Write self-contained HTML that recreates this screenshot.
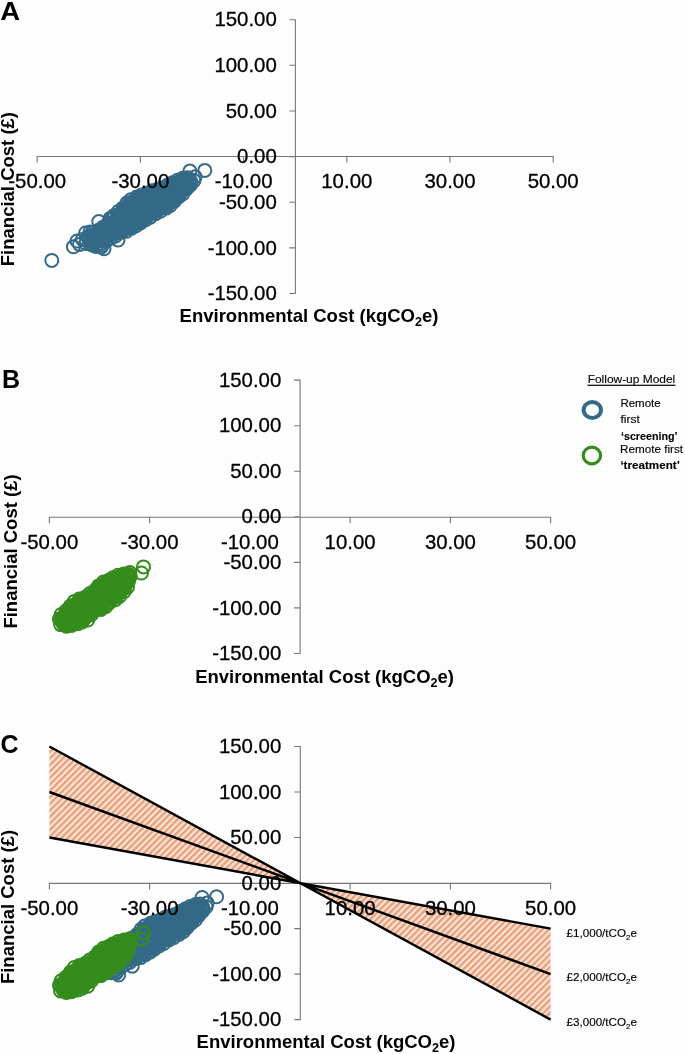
<!DOCTYPE html><html><head><meta charset="utf-8"><style>html,body{margin:0;padding:0;background:#fdfdfd;}svg{display:block;will-change:transform}</style></head><body><svg width="685" height="1054" viewBox="0 0 685 1054" font-family='"Liberation Sans", sans-serif' font-size="20.4" fill="#000"><style>.t text{stroke:#000;stroke-width:0.3px}</style><defs><pattern id="hatch" patternUnits="userSpaceOnUse" width="4.6" height="4.6" patternTransform="rotate(45)"><rect width="4.6" height="4.6" fill="#f7e4d9"/><rect width="2.3" height="4.6" fill="#e99e78"/></pattern></defs><rect width="685" height="1054" fill="#fdfdfd"/><path d="M37.2,162.5V156.5H553.2V162.5M140.4,156.5v6M243.6,156.5v6M346.8,156.5v6M450.0,156.5v6M289.4,19.7H295.4V293.5H289.4M289.4,65.3H295.4M289.4,111.0H295.4M289.4,156.6H295.4M289.4,202.2H295.4M289.4,247.9H295.4" fill="none" stroke="#777777" stroke-width="1.1"/><g fill="none" stroke="#346a87" stroke-width="2.0"><circle cx="174.5" cy="184.8" r="6.5"/><circle cx="159.0" cy="202.0" r="6.5"/><circle cx="131.6" cy="228.3" r="6.5"/><circle cx="123.2" cy="225.8" r="6.5"/><circle cx="169.5" cy="197.5" r="6.5"/><circle cx="173.2" cy="192.0" r="6.5"/><circle cx="103.2" cy="230.5" r="6.5"/><circle cx="103.5" cy="238.8" r="6.5"/><circle cx="115.5" cy="231.2" r="6.5"/><circle cx="185.2" cy="183.2" r="6.5"/><circle cx="153.2" cy="204.5" r="6.5"/><circle cx="172.4" cy="182.7" r="6.5"/><circle cx="157.5" cy="204.8" r="6.5"/><circle cx="111.1" cy="238.1" r="6.5"/><circle cx="124.2" cy="226.5" r="6.5"/><circle cx="129.8" cy="208.0" r="6.5"/><circle cx="104.2" cy="229.2" r="6.5"/><circle cx="123.5" cy="222.0" r="6.5"/><circle cx="114.2" cy="231.8" r="6.5"/><circle cx="132.2" cy="210.2" r="6.5"/><circle cx="180.5" cy="180.8" r="6.5"/><circle cx="172.0" cy="192.2" r="6.5"/><circle cx="118.5" cy="211.4" r="6.5"/><circle cx="144.2" cy="206.8" r="6.5"/><circle cx="159.5" cy="194.8" r="6.5"/><circle cx="129.0" cy="205.0" r="6.5"/><circle cx="111.5" cy="232.8" r="6.5"/><circle cx="164.0" cy="189.2" r="6.5"/><circle cx="168.0" cy="189.2" r="6.5"/><circle cx="105.2" cy="236.8" r="6.5"/><circle cx="177.5" cy="180.2" r="6.5"/><circle cx="157.0" cy="204.0" r="6.5"/><circle cx="120.0" cy="225.5" r="6.5"/><circle cx="170.2" cy="188.0" r="6.5"/><circle cx="143.2" cy="219.0" r="6.5"/><circle cx="168.8" cy="196.2" r="6.5"/><circle cx="138.2" cy="222.5" r="6.5"/><circle cx="172.5" cy="190.8" r="6.5"/><circle cx="138.0" cy="203.8" r="6.5"/><circle cx="123.8" cy="216.5" r="6.5"/><circle cx="159.2" cy="198.2" r="6.5"/><circle cx="122.0" cy="222.5" r="6.5"/><circle cx="176.0" cy="196.8" r="6.5"/><circle cx="102.7" cy="227.4" r="6.5"/><circle cx="174.8" cy="193.2" r="6.5"/><circle cx="124.2" cy="216.0" r="6.5"/><circle cx="173.5" cy="188.5" r="6.5"/><circle cx="140.5" cy="210.8" r="6.5"/><circle cx="117.2" cy="224.8" r="6.5"/><circle cx="139.8" cy="211.2" r="6.5"/><circle cx="161.0" cy="193.5" r="6.5"/><circle cx="136.8" cy="222.5" r="6.5"/><circle cx="161.8" cy="198.0" r="6.5"/><circle cx="149.8" cy="210.8" r="6.5"/><circle cx="120.5" cy="222.2" r="6.5"/><circle cx="119.8" cy="219.0" r="6.5"/><circle cx="166.8" cy="187.2" r="6.5"/><circle cx="182.0" cy="180.8" r="6.5"/><circle cx="113.2" cy="226.5" r="6.5"/><circle cx="167.2" cy="196.5" r="6.5"/><circle cx="126.5" cy="218.8" r="6.5"/><circle cx="185.2" cy="184.2" r="6.5"/><circle cx="115.0" cy="223.2" r="6.5"/><circle cx="134.2" cy="214.8" r="6.5"/><circle cx="185.5" cy="185.2" r="6.5"/><circle cx="119.2" cy="215.8" r="6.5"/><circle cx="182.2" cy="190.0" r="6.5"/><circle cx="179.2" cy="193.2" r="6.5"/><circle cx="101.2" cy="230.5" r="6.5"/><circle cx="155.5" cy="201.2" r="6.5"/><circle cx="136.7" cy="197.0" r="6.5"/><circle cx="104.8" cy="233.0" r="6.5"/><circle cx="118.5" cy="218.2" r="6.5"/><circle cx="166.5" cy="191.5" r="6.5"/><circle cx="122.2" cy="230.8" r="6.5"/><circle cx="112.2" cy="218.5" r="6.5"/><circle cx="118.0" cy="216.0" r="6.5"/><circle cx="104.5" cy="238.8" r="6.5"/><circle cx="180.2" cy="190.5" r="6.5"/><circle cx="185.5" cy="188.0" r="6.5"/><circle cx="156.2" cy="210.8" r="6.5"/><circle cx="106.8" cy="235.0" r="6.5"/><circle cx="128.8" cy="222.2" r="6.5"/><circle cx="167.8" cy="190.8" r="6.5"/><circle cx="107.8" cy="230.0" r="6.5"/><circle cx="138.2" cy="210.2" r="6.5"/><circle cx="130.8" cy="205.5" r="6.5"/><circle cx="132.2" cy="222.8" r="6.5"/><circle cx="151.9" cy="190.8" r="6.5"/><circle cx="144.0" cy="211.8" r="6.5"/><circle cx="185.0" cy="182.0" r="6.5"/><circle cx="127.0" cy="206.8" r="6.5"/><circle cx="142.5" cy="197.8" r="6.5"/><circle cx="171.5" cy="187.0" r="6.5"/><circle cx="115.5" cy="225.8" r="6.5"/><circle cx="124.8" cy="209.8" r="6.5"/><circle cx="118.5" cy="224.5" r="6.5"/><circle cx="165.2" cy="203.0" r="6.5"/><circle cx="92.0" cy="239.2" r="6.5"/><circle cx="128.0" cy="216.8" r="6.5"/><circle cx="161.8" cy="188.1" r="6.5"/><circle cx="137.0" cy="214.0" r="6.5"/><circle cx="118.5" cy="222.5" r="6.5"/><circle cx="123.1" cy="207.9" r="6.5"/><circle cx="121.3" cy="232.3" r="6.5"/><circle cx="144.0" cy="209.2" r="6.5"/><circle cx="164.0" cy="194.0" r="6.5"/><circle cx="151.8" cy="200.0" r="6.5"/><circle cx="179.8" cy="185.8" r="6.5"/><circle cx="129.8" cy="213.5" r="6.5"/><circle cx="130.8" cy="220.0" r="6.5"/><circle cx="112.5" cy="226.0" r="6.5"/><circle cx="166.8" cy="205.2" r="6.5"/><circle cx="132.5" cy="221.2" r="6.5"/><circle cx="127.2" cy="217.2" r="6.5"/><circle cx="121.8" cy="214.0" r="6.5"/><circle cx="177.8" cy="188.0" r="6.5"/><circle cx="136.8" cy="220.2" r="6.5"/><circle cx="131.5" cy="219.2" r="6.5"/><circle cx="119.8" cy="221.8" r="6.5"/><circle cx="187.0" cy="183.8" r="6.5"/><circle cx="184.0" cy="187.5" r="6.5"/><circle cx="130.8" cy="214.0" r="6.5"/><circle cx="170.2" cy="189.0" r="6.5"/><circle cx="138.5" cy="198.0" r="6.5"/><circle cx="98.8" cy="238.0" r="6.5"/><circle cx="97.8" cy="232.0" r="6.5"/><circle cx="135.5" cy="220.8" r="6.5"/><circle cx="157.2" cy="189.5" r="6.5"/><circle cx="153.0" cy="199.8" r="6.5"/><circle cx="168.0" cy="193.0" r="6.5"/><circle cx="134.5" cy="216.0" r="6.5"/><circle cx="112.8" cy="227.5" r="6.5"/><circle cx="134.2" cy="220.2" r="6.5"/><circle cx="129.2" cy="209.0" r="6.5"/><circle cx="159.0" cy="193.8" r="6.5"/><circle cx="167.0" cy="199.5" r="6.5"/><circle cx="144.8" cy="212.0" r="6.5"/><circle cx="171.8" cy="192.2" r="6.5"/><circle cx="139.8" cy="209.2" r="6.5"/><circle cx="112.2" cy="232.0" r="6.5"/><circle cx="118.5" cy="219.2" r="6.5"/><circle cx="160.4" cy="211.3" r="6.5"/><circle cx="175.2" cy="191.5" r="6.5"/><circle cx="156.5" cy="198.0" r="6.5"/><circle cx="113.2" cy="234.0" r="6.5"/><circle cx="187.8" cy="177.7" r="6.5"/><circle cx="140.2" cy="207.0" r="6.5"/><circle cx="180.8" cy="191.5" r="6.5"/><circle cx="156.8" cy="200.0" r="6.5"/><circle cx="102.2" cy="240.2" r="6.5"/><circle cx="154.5" cy="198.8" r="6.5"/><circle cx="164.5" cy="203.0" r="6.5"/><circle cx="186.5" cy="189.0" r="6.5"/><circle cx="178.0" cy="186.5" r="6.5"/><circle cx="164.2" cy="203.8" r="6.5"/><circle cx="185.5" cy="179.0" r="6.5"/><circle cx="109.0" cy="229.2" r="6.5"/><circle cx="113.8" cy="225.8" r="6.5"/><circle cx="161.8" cy="203.0" r="6.5"/><circle cx="137.2" cy="202.8" r="6.5"/><circle cx="170.3" cy="205.5" r="6.5"/><circle cx="146.5" cy="215.5" r="6.5"/><circle cx="154.2" cy="206.8" r="6.5"/><circle cx="101.2" cy="240.8" r="6.5"/><circle cx="179.2" cy="183.8" r="6.5"/><circle cx="132.5" cy="210.5" r="6.5"/><circle cx="102.5" cy="229.8" r="6.5"/><circle cx="152.0" cy="205.8" r="6.5"/><circle cx="123.2" cy="212.8" r="6.5"/><circle cx="139.2" cy="202.0" r="6.5"/><circle cx="175.5" cy="188.0" r="6.5"/><circle cx="179.0" cy="182.5" r="6.5"/><circle cx="166.8" cy="198.2" r="6.5"/><circle cx="89.0" cy="239.2" r="6.5"/><circle cx="109.2" cy="232.8" r="6.5"/><circle cx="131.5" cy="202.8" r="6.5"/><circle cx="110.2" cy="218.4" r="6.5"/><circle cx="169.0" cy="186.5" r="6.5"/><circle cx="164.8" cy="191.8" r="6.5"/><circle cx="109.2" cy="224.8" r="6.5"/><circle cx="120.2" cy="215.2" r="6.5"/><circle cx="174.5" cy="196.0" r="6.5"/><circle cx="159.5" cy="192.8" r="6.5"/><circle cx="145.2" cy="217.5" r="6.5"/><circle cx="161.0" cy="191.5" r="6.5"/><circle cx="96.2" cy="242.0" r="6.5"/><circle cx="116.0" cy="220.8" r="6.5"/><circle cx="96.5" cy="238.0" r="6.5"/><circle cx="103.5" cy="233.2" r="6.5"/><circle cx="175.2" cy="183.5" r="6.5"/><circle cx="162.8" cy="191.0" r="6.5"/><circle cx="108.8" cy="226.0" r="6.5"/><circle cx="174.4" cy="201.2" r="6.5"/><circle cx="139.2" cy="219.0" r="6.5"/><circle cx="101.2" cy="243.5" r="6.5"/><circle cx="165.0" cy="193.8" r="6.5"/><circle cx="128.2" cy="208.2" r="6.5"/><circle cx="150.2" cy="212.2" r="6.5"/><circle cx="99.8" cy="231.0" r="6.5"/><circle cx="177.2" cy="186.8" r="6.5"/><circle cx="101.0" cy="230.8" r="6.5"/><circle cx="120.2" cy="216.8" r="6.5"/><circle cx="163.8" cy="206.8" r="6.5"/><circle cx="129.0" cy="228.0" r="6.5"/><circle cx="126.8" cy="223.8" r="6.5"/><circle cx="146.0" cy="204.2" r="6.5"/><circle cx="139.0" cy="217.2" r="6.5"/><circle cx="171.2" cy="202.2" r="6.5"/><circle cx="113.5" cy="218.5" r="6.5"/><circle cx="109.2" cy="228.5" r="6.5"/><circle cx="128.0" cy="224.5" r="6.5"/><circle cx="172.8" cy="184.8" r="6.5"/><circle cx="146.9" cy="193.3" r="6.5"/><circle cx="95.8" cy="235.2" r="6.5"/><circle cx="130.2" cy="210.8" r="6.5"/><circle cx="115.6" cy="236.0" r="6.5"/><circle cx="122.8" cy="230.0" r="6.5"/><circle cx="148.5" cy="206.2" r="6.5"/><circle cx="156.5" cy="195.0" r="6.5"/><circle cx="94.0" cy="237.5" r="6.5"/><circle cx="95.0" cy="243.0" r="6.5"/><circle cx="107.2" cy="236.0" r="6.5"/><circle cx="168.2" cy="186.2" r="6.5"/><circle cx="151.0" cy="196.0" r="6.5"/><circle cx="180.2" cy="188.8" r="6.5"/><circle cx="132.8" cy="214.0" r="6.5"/><circle cx="146.2" cy="196.2" r="6.5"/><circle cx="137.2" cy="213.2" r="6.5"/><circle cx="130.0" cy="210.0" r="6.5"/><circle cx="132.8" cy="202.2" r="6.5"/><circle cx="139.8" cy="203.0" r="6.5"/><circle cx="142.2" cy="208.8" r="6.5"/><circle cx="120.8" cy="223.5" r="6.5"/><circle cx="141.5" cy="195.1" r="6.5"/><circle cx="130.2" cy="216.2" r="6.5"/><circle cx="172.8" cy="201.2" r="6.5"/><circle cx="107.8" cy="227.2" r="6.5"/><circle cx="121.0" cy="229.0" r="6.5"/><circle cx="150.3" cy="217.2" r="6.5"/><circle cx="142.2" cy="202.2" r="6.5"/><circle cx="126.5" cy="231.3" r="6.5"/><circle cx="155.6" cy="213.7" r="6.5"/><circle cx="143.2" cy="204.0" r="6.5"/><circle cx="138.5" cy="212.0" r="6.5"/><circle cx="163.5" cy="195.2" r="6.5"/><circle cx="93.2" cy="241.0" r="6.5"/><circle cx="123.0" cy="211.8" r="6.5"/><circle cx="51.8" cy="260.4" r="6.5"/><circle cx="156.0" cy="210.8" r="6.5"/><circle cx="144.2" cy="214.2" r="6.5"/><circle cx="132.2" cy="219.5" r="6.5"/><circle cx="132.8" cy="203.0" r="6.5"/><circle cx="125.0" cy="215.0" r="6.5"/><circle cx="128.8" cy="225.8" r="6.5"/><circle cx="125.2" cy="208.5" r="6.5"/><circle cx="86.5" cy="240.7" r="6.5"/><circle cx="137.2" cy="209.5" r="6.5"/><circle cx="186.0" cy="179.8" r="6.5"/><circle cx="180.0" cy="184.0" r="6.5"/><circle cx="105.2" cy="233.2" r="6.5"/><circle cx="162.5" cy="204.5" r="6.5"/><circle cx="189.8" cy="183.2" r="6.5"/><circle cx="93.5" cy="241.0" r="6.5"/><circle cx="126.2" cy="210.5" r="6.5"/><circle cx="140.2" cy="198.0" r="6.5"/><circle cx="144.8" cy="215.8" r="6.5"/><circle cx="174.8" cy="198.2" r="6.5"/><circle cx="170.0" cy="192.0" r="6.5"/><circle cx="136.1" cy="225.8" r="6.5"/><circle cx="152.0" cy="213.2" r="6.5"/><circle cx="135.8" cy="212.8" r="6.5"/><circle cx="136.0" cy="215.2" r="6.5"/><circle cx="114.8" cy="230.8" r="6.5"/><circle cx="139.2" cy="207.2" r="6.5"/><circle cx="132.5" cy="216.0" r="6.5"/><circle cx="120.5" cy="218.2" r="6.5"/><circle cx="176.8" cy="194.5" r="6.5"/><circle cx="116.0" cy="233.2" r="6.5"/><circle cx="107.5" cy="233.0" r="6.5"/><circle cx="164.2" cy="202.5" r="6.5"/><circle cx="136.2" cy="221.8" r="6.5"/><circle cx="169.5" cy="188.0" r="6.5"/><circle cx="158.0" cy="200.0" r="6.5"/><circle cx="112.2" cy="229.2" r="6.5"/><circle cx="127.2" cy="217.5" r="6.5"/><circle cx="171.5" cy="201.0" r="6.5"/><circle cx="178.8" cy="193.0" r="6.5"/><circle cx="174.8" cy="186.2" r="6.5"/><circle cx="141.2" cy="198.5" r="6.5"/><circle cx="163.5" cy="200.2" r="6.5"/><circle cx="180.5" cy="187.8" r="6.5"/><circle cx="175.2" cy="190.5" r="6.5"/><circle cx="157.5" cy="207.2" r="6.5"/><circle cx="158.2" cy="199.0" r="6.5"/><circle cx="153.5" cy="206.2" r="6.5"/><circle cx="100.5" cy="233.2" r="6.5"/><circle cx="125.8" cy="211.8" r="6.5"/><circle cx="123.2" cy="220.0" r="6.5"/><circle cx="147.2" cy="201.2" r="6.5"/><circle cx="183.5" cy="188.8" r="6.5"/><circle cx="98.8" cy="234.8" r="6.5"/><circle cx="171.0" cy="193.0" r="6.5"/><circle cx="117.5" cy="225.0" r="6.5"/><circle cx="148.5" cy="204.5" r="6.5"/><circle cx="129.0" cy="215.2" r="6.5"/><circle cx="151.5" cy="193.5" r="6.5"/><circle cx="120.8" cy="219.2" r="6.5"/><circle cx="157.8" cy="208.8" r="6.5"/><circle cx="166.5" cy="188.8" r="6.5"/><circle cx="92.6" cy="232.4" r="6.5"/><circle cx="135.8" cy="201.5" r="6.5"/><circle cx="126.8" cy="211.2" r="6.5"/><circle cx="116.0" cy="226.5" r="6.5"/><circle cx="152.2" cy="195.0" r="6.5"/><circle cx="177.2" cy="192.2" r="6.5"/><circle cx="127.0" cy="202.9" r="6.5"/><circle cx="139.8" cy="213.5" r="6.5"/><circle cx="194.0" cy="180.6" r="6.5"/><circle cx="128.8" cy="204.8" r="6.5"/><circle cx="149.2" cy="196.8" r="6.5"/><circle cx="115.2" cy="231.0" r="6.5"/><circle cx="156.5" cy="194.2" r="6.5"/><circle cx="98.5" cy="230.2" r="6.5"/><circle cx="182.9" cy="193.6" r="6.5"/><circle cx="126.2" cy="219.0" r="6.5"/><circle cx="113.8" cy="225.5" r="6.5"/><circle cx="140.8" cy="215.5" r="6.5"/><circle cx="89.1" cy="236.4" r="6.5"/><circle cx="140.2" cy="212.0" r="6.5"/><circle cx="140.8" cy="203.5" r="6.5"/><circle cx="190.5" cy="181.0" r="6.5"/><circle cx="129.5" cy="222.2" r="6.5"/><circle cx="157.5" cy="209.8" r="6.5"/><circle cx="140.2" cy="217.8" r="6.5"/><circle cx="182.5" cy="184.0" r="6.5"/><circle cx="167.5" cy="185.2" r="6.5"/><circle cx="126.8" cy="228.2" r="6.5"/><circle cx="97.0" cy="234.2" r="6.5"/><circle cx="132.5" cy="202.5" r="6.5"/><circle cx="126.5" cy="223.2" r="6.5"/><circle cx="91.8" cy="236.8" r="6.5"/><circle cx="178.8" cy="189.0" r="6.5"/><circle cx="124.8" cy="212.5" r="6.5"/><circle cx="180.8" cy="192.2" r="6.5"/><circle cx="147.0" cy="210.5" r="6.5"/><circle cx="177.2" cy="183.2" r="6.5"/><circle cx="168.0" cy="198.2" r="6.5"/><circle cx="160.5" cy="199.8" r="6.5"/><circle cx="127.0" cy="211.8" r="6.5"/><circle cx="117.2" cy="221.8" r="6.5"/><circle cx="129.8" cy="226.0" r="6.5"/><circle cx="97.8" cy="233.5" r="6.5"/><circle cx="156.0" cy="201.8" r="6.5"/><circle cx="160.5" cy="190.2" r="6.5"/><circle cx="160.2" cy="193.0" r="6.5"/><circle cx="176.8" cy="191.8" r="6.5"/><circle cx="177.0" cy="185.0" r="6.5"/><circle cx="124.8" cy="208.8" r="6.5"/><circle cx="151.8" cy="208.8" r="6.5"/><circle cx="171.8" cy="199.2" r="6.5"/><circle cx="159.0" cy="208.8" r="6.5"/><circle cx="130.8" cy="202.5" r="6.5"/><circle cx="155.0" cy="194.8" r="6.5"/><circle cx="130.2" cy="225.0" r="6.5"/><circle cx="184.5" cy="186.8" r="6.5"/><circle cx="101.2" cy="237.5" r="6.5"/><circle cx="126.2" cy="221.0" r="6.5"/><circle cx="129.8" cy="205.2" r="6.5"/><circle cx="177.8" cy="185.8" r="6.5"/><circle cx="176.0" cy="193.5" r="6.5"/><circle cx="105.5" cy="227.5" r="6.5"/><circle cx="146.0" cy="214.2" r="6.5"/><circle cx="143.5" cy="198.0" r="6.5"/><circle cx="155.0" cy="203.2" r="6.5"/><circle cx="111.8" cy="219.0" r="6.5"/><circle cx="117.0" cy="220.5" r="6.5"/><circle cx="103.2" cy="230.8" r="6.5"/><circle cx="157.5" cy="210.0" r="6.5"/><circle cx="179.0" cy="196.7" r="6.5"/><circle cx="139.8" cy="200.2" r="6.5"/><circle cx="184.8" cy="186.2" r="6.5"/><circle cx="131.5" cy="212.2" r="6.5"/><circle cx="164.8" cy="195.2" r="6.5"/><circle cx="117.0" cy="231.2" r="6.5"/><circle cx="129.5" cy="203.5" r="6.5"/><circle cx="152.5" cy="199.8" r="6.5"/><circle cx="130.0" cy="207.0" r="6.5"/><circle cx="149.2" cy="194.0" r="6.5"/><circle cx="94.5" cy="235.2" r="6.5"/><circle cx="129.5" cy="208.5" r="6.5"/><circle cx="117.0" cy="230.0" r="6.5"/><circle cx="126.0" cy="224.0" r="6.5"/><circle cx="144.8" cy="200.0" r="6.5"/><circle cx="190.0" cy="181.0" r="6.5"/><circle cx="145.6" cy="219.7" r="6.5"/><circle cx="148.5" cy="205.0" r="6.5"/><circle cx="132.5" cy="213.0" r="6.5"/><circle cx="98.2" cy="236.0" r="6.5"/><circle cx="112.0" cy="224.5" r="6.5"/><circle cx="124.0" cy="230.2" r="6.5"/><circle cx="142.8" cy="199.0" r="6.5"/><circle cx="123.2" cy="215.8" r="6.5"/><circle cx="164.8" cy="194.8" r="6.5"/><circle cx="139.8" cy="220.5" r="6.5"/><circle cx="117.5" cy="224.0" r="6.5"/><circle cx="183.2" cy="178.1" r="6.5"/><circle cx="166.0" cy="208.1" r="6.5"/><circle cx="147.0" cy="216.2" r="6.5"/><circle cx="154.2" cy="197.5" r="6.5"/><circle cx="167.5" cy="192.0" r="6.5"/><circle cx="112.8" cy="224.5" r="6.5"/><circle cx="160.0" cy="199.8" r="6.5"/><circle cx="151.2" cy="200.2" r="6.5"/><circle cx="130.7" cy="199.7" r="6.5"/><circle cx="190.0" cy="180.2" r="6.5"/><circle cx="130.5" cy="211.5" r="6.5"/><circle cx="114.2" cy="215.4" r="6.5"/><circle cx="123.5" cy="225.8" r="6.5"/><circle cx="128.0" cy="207.8" r="6.5"/><circle cx="152.0" cy="208.5" r="6.5"/><circle cx="102.2" cy="233.2" r="6.5"/><circle cx="156.5" cy="208.8" r="6.5"/><circle cx="124.2" cy="225.0" r="6.5"/><circle cx="121.8" cy="217.8" r="6.5"/><circle cx="172.5" cy="191.2" r="6.5"/><circle cx="134.0" cy="212.8" r="6.5"/><circle cx="132.2" cy="225.2" r="6.5"/><circle cx="131.0" cy="203.2" r="6.5"/><circle cx="177.8" cy="187.2" r="6.5"/><circle cx="161.5" cy="204.5" r="6.5"/><circle cx="152.2" cy="192.5" r="6.5"/><circle cx="151.5" cy="205.8" r="6.5"/><circle cx="140.8" cy="201.8" r="6.5"/><circle cx="150.8" cy="211.0" r="6.5"/><circle cx="122.8" cy="211.8" r="6.5"/><circle cx="106.4" cy="240.9" r="6.5"/><circle cx="96.9" cy="245.1" r="6.5"/><circle cx="166.8" cy="197.0" r="6.5"/><circle cx="127.2" cy="212.2" r="6.5"/><circle cx="140.5" cy="222.9" r="6.5"/><circle cx="133.2" cy="206.2" r="6.5"/><circle cx="162.5" cy="192.8" r="6.5"/><circle cx="133.5" cy="210.2" r="6.5"/><circle cx="129.0" cy="224.2" r="6.5"/><circle cx="127.5" cy="220.8" r="6.5"/><circle cx="172.2" cy="200.8" r="6.5"/><circle cx="170.8" cy="185.0" r="6.5"/><circle cx="101.9" cy="245.3" r="6.5"/><circle cx="138.5" cy="215.0" r="6.5"/><circle cx="144.8" cy="208.0" r="6.5"/><circle cx="161.2" cy="189.5" r="6.5"/><circle cx="124.0" cy="218.5" r="6.5"/><circle cx="131.8" cy="219.5" r="6.5"/><circle cx="111.2" cy="223.0" r="6.5"/><circle cx="184.0" cy="185.8" r="6.5"/><circle cx="142.8" cy="207.2" r="6.5"/><circle cx="109.2" cy="234.0" r="6.5"/><circle cx="157.8" cy="196.2" r="6.5"/><circle cx="118.2" cy="223.2" r="6.5"/><circle cx="91.0" cy="243.1" r="6.5"/><circle cx="123.2" cy="214.2" r="6.5"/><circle cx="190.4" cy="184.9" r="6.5"/><circle cx="119.2" cy="230.8" r="6.5"/><circle cx="93.5" cy="236.2" r="6.5"/><circle cx="140.0" cy="214.5" r="6.5"/><circle cx="166.2" cy="188.5" r="6.5"/><circle cx="125.2" cy="219.8" r="6.5"/><circle cx="155.2" cy="201.8" r="6.5"/><circle cx="127.2" cy="208.2" r="6.5"/><circle cx="145.5" cy="209.0" r="6.5"/><circle cx="121.5" cy="221.2" r="6.5"/><circle cx="137.5" cy="214.5" r="6.5"/><circle cx="116.8" cy="218.0" r="6.5"/><circle cx="130.2" cy="226.8" r="6.5"/><circle cx="152.8" cy="195.2" r="6.5"/><circle cx="118.0" cy="230.2" r="6.5"/><circle cx="138.8" cy="207.2" r="6.5"/><circle cx="145.0" cy="214.2" r="6.5"/><circle cx="106.8" cy="234.2" r="6.5"/><circle cx="159.0" cy="207.8" r="6.5"/><circle cx="144.8" cy="217.0" r="6.5"/><circle cx="164.2" cy="200.8" r="6.5"/><circle cx="181.8" cy="182.2" r="6.5"/><circle cx="105.8" cy="229.8" r="6.5"/><circle cx="107.6" cy="223.9" r="6.5"/><circle cx="178.8" cy="190.5" r="6.5"/><circle cx="154.0" cy="198.0" r="6.5"/><circle cx="124.0" cy="210.5" r="6.5"/><circle cx="126.2" cy="222.2" r="6.5"/><circle cx="99.0" cy="239.2" r="6.5"/><circle cx="100.2" cy="236.0" r="6.5"/><circle cx="122.8" cy="228.0" r="6.5"/><circle cx="149.5" cy="204.2" r="6.5"/><circle cx="169.8" cy="193.2" r="6.5"/><circle cx="98.0" cy="238.8" r="6.5"/><circle cx="141.0" cy="200.2" r="6.5"/><circle cx="189.9" cy="171.1" r="6.5"/><circle cx="195.1" cy="176.7" r="6.5"/><circle cx="204.8" cy="170.4" r="6.5"/><circle cx="73.4" cy="246.8" r="6.5"/><circle cx="79.5" cy="244.4" r="6.5"/><circle cx="85.6" cy="233.0" r="6.5"/><circle cx="98.8" cy="221.6" r="6.5"/><circle cx="101.4" cy="247.0" r="6.5"/><circle cx="104.0" cy="248.8" r="6.5"/><circle cx="118.0" cy="240.0" r="6.5"/><circle cx="77.0" cy="241.0" r="6.5"/><circle cx="82.5" cy="239.5" r="6.5"/><circle cx="88.0" cy="237.0" r="6.5"/><circle cx="86.0" cy="243.5" r="6.5"/><circle cx="92.0" cy="245.0" r="6.5"/><circle cx="96.0" cy="246.5" r="6.5"/><circle cx="90.0" cy="232.0" r="6.5"/></g><g class="t"><text x="276.8" y="26.3" text-anchor="end">150.00</text><text x="276.8" y="71.9" text-anchor="end">100.00</text><text x="276.8" y="117.6" text-anchor="end">50.00</text><text x="276.8" y="163.2" text-anchor="end">0.00</text><text x="276.8" y="208.8" text-anchor="end">-50.00</text><text x="276.8" y="254.5" text-anchor="end">-100.00</text><text x="276.8" y="300.1" text-anchor="end">-150.00</text></g><g class="t"><text x="37.2" y="187.5" text-anchor="middle">-50.00</text><text x="140.4" y="187.5" text-anchor="middle">-30.00</text><text x="243.6" y="187.5" text-anchor="middle">-10.00</text><text x="346.8" y="187.5" text-anchor="middle">10.00</text><text x="450.0" y="187.5" text-anchor="middle">30.00</text><text x="553.2" y="187.5" text-anchor="middle">50.00</text></g><text transform="translate(14.4,189.1) rotate(-90)" text-anchor="middle" font-weight="bold" font-size="18.5">Financial Cost (£)</text><text x="309.0" y="321.5" text-anchor="middle" font-weight="bold" font-size="18.5">Environmental Cost (kgCO<tspan font-size="12.5" dy="4">2</tspan><tspan dy="-4">e)</tspan></text><text transform="translate(0.3,19.6) scale(1.1,1)" font-weight="bold" font-size="25">A</text><path d="M49.4,523.3V517.3H550.6V523.3M149.6,517.3v6M249.9,517.3v6M350.1,517.3v6M450.4,517.3v6M294.1,380.1H300.1V653.5H294.1M294.1,425.7H300.1M294.1,471.2H300.1M294.1,516.8H300.1M294.1,562.4H300.1M294.1,607.9H300.1" fill="none" stroke="#777777" stroke-width="1.1"/><g fill="none" stroke="#358c1d" stroke-width="2.0"><circle cx="80.5" cy="618.5" r="6.5"/><circle cx="76.2" cy="613.5" r="6.5"/><circle cx="123.2" cy="577.8" r="6.5"/><circle cx="123.0" cy="587.0" r="6.5"/><circle cx="102.2" cy="603.5" r="6.5"/><circle cx="70.8" cy="610.2" r="6.5"/><circle cx="104.8" cy="601.0" r="6.5"/><circle cx="105.6" cy="606.7" r="6.5"/><circle cx="66.1" cy="610.7" r="6.5"/><circle cx="99.8" cy="591.0" r="6.5"/><circle cx="77.9" cy="623.8" r="6.5"/><circle cx="116.2" cy="596.8" r="6.5"/><circle cx="82.0" cy="612.8" r="6.5"/><circle cx="90.0" cy="612.2" r="6.5"/><circle cx="69.0" cy="617.0" r="6.5"/><circle cx="71.5" cy="623.8" r="6.5"/><circle cx="89.8" cy="612.0" r="6.5"/><circle cx="67.2" cy="617.5" r="6.5"/><circle cx="118.0" cy="580.0" r="6.5"/><circle cx="87.5" cy="597.8" r="6.5"/><circle cx="83.2" cy="619.0" r="6.5"/><circle cx="69.8" cy="613.2" r="6.5"/><circle cx="69.2" cy="624.0" r="6.5"/><circle cx="72.8" cy="622.8" r="6.5"/><circle cx="89.2" cy="600.2" r="6.5"/><circle cx="64.0" cy="624.2" r="6.5"/><circle cx="116.8" cy="585.5" r="6.5"/><circle cx="76.2" cy="609.0" r="6.5"/><circle cx="77.8" cy="608.5" r="6.5"/><circle cx="101.8" cy="590.0" r="6.5"/><circle cx="74.2" cy="609.2" r="6.5"/><circle cx="112.8" cy="589.8" r="6.5"/><circle cx="96.2" cy="600.2" r="6.5"/><circle cx="64.0" cy="618.0" r="6.5"/><circle cx="84.0" cy="603.0" r="6.5"/><circle cx="73.5" cy="621.2" r="6.5"/><circle cx="74.2" cy="622.0" r="6.5"/><circle cx="95.2" cy="602.8" r="6.5"/><circle cx="106.8" cy="599.8" r="6.5"/><circle cx="59.4" cy="619.0" r="6.5"/><circle cx="123.2" cy="585.0" r="6.5"/><circle cx="85.8" cy="613.2" r="6.5"/><circle cx="89.0" cy="611.5" r="6.5"/><circle cx="85.0" cy="606.0" r="6.5"/><circle cx="125.0" cy="584.2" r="6.5"/><circle cx="126.0" cy="584.2" r="6.5"/><circle cx="94.8" cy="593.0" r="6.5"/><circle cx="86.8" cy="601.0" r="6.5"/><circle cx="96.2" cy="596.2" r="6.5"/><circle cx="127.5" cy="587.2" r="6.5"/><circle cx="122.5" cy="588.2" r="6.5"/><circle cx="73.8" cy="613.8" r="6.5"/><circle cx="86.5" cy="603.5" r="6.5"/><circle cx="113.5" cy="592.5" r="6.5"/><circle cx="113.8" cy="595.5" r="6.5"/><circle cx="129.8" cy="572.5" r="6.5"/><circle cx="79.5" cy="607.2" r="6.5"/><circle cx="91.2" cy="610.8" r="6.5"/><circle cx="80.0" cy="619.8" r="6.5"/><circle cx="117.5" cy="585.8" r="6.5"/><circle cx="112.0" cy="593.5" r="6.5"/><circle cx="94.4" cy="610.9" r="6.5"/><circle cx="90.0" cy="607.8" r="6.5"/><circle cx="116.0" cy="591.2" r="6.5"/><circle cx="102.0" cy="605.8" r="6.5"/><circle cx="71.8" cy="619.2" r="6.5"/><circle cx="124.3" cy="591.5" r="6.5"/><circle cx="69.5" cy="623.8" r="6.5"/><circle cx="130.4" cy="576.3" r="6.5"/><circle cx="88.0" cy="601.2" r="6.5"/><circle cx="83.0" cy="614.5" r="6.5"/><circle cx="76.8" cy="610.0" r="6.5"/><circle cx="108.0" cy="600.5" r="6.5"/><circle cx="88.8" cy="603.8" r="6.5"/><circle cx="123.0" cy="588.5" r="6.5"/><circle cx="101.0" cy="593.0" r="6.5"/><circle cx="114.2" cy="592.2" r="6.5"/><circle cx="68.2" cy="616.8" r="6.5"/><circle cx="100.5" cy="599.5" r="6.5"/><circle cx="83.5" cy="607.8" r="6.5"/><circle cx="84.0" cy="610.5" r="6.5"/><circle cx="116.2" cy="579.5" r="6.5"/><circle cx="129.2" cy="576.0" r="6.5"/><circle cx="94.8" cy="590.5" r="6.5"/><circle cx="71.5" cy="621.8" r="6.5"/><circle cx="111.0" cy="597.0" r="6.5"/><circle cx="70.5" cy="614.2" r="6.5"/><circle cx="107.0" cy="589.2" r="6.5"/><circle cx="127.5" cy="575.8" r="6.5"/><circle cx="67.8" cy="618.0" r="6.5"/><circle cx="110.2" cy="594.5" r="6.5"/><circle cx="119.7" cy="596.2" r="6.5"/><circle cx="111.5" cy="587.2" r="6.5"/><circle cx="115.5" cy="586.8" r="6.5"/><circle cx="77.8" cy="618.8" r="6.5"/><circle cx="121.2" cy="581.0" r="6.5"/><circle cx="112.2" cy="588.0" r="6.5"/><circle cx="90.8" cy="601.5" r="6.5"/><circle cx="125.2" cy="582.8" r="6.5"/><circle cx="102.5" cy="599.8" r="6.5"/><circle cx="100.0" cy="587.5" r="6.5"/><circle cx="104.8" cy="598.5" r="6.5"/><circle cx="103.4" cy="582.0" r="6.5"/><circle cx="77.0" cy="617.5" r="6.5"/><circle cx="103.5" cy="587.8" r="6.5"/><circle cx="105.2" cy="588.8" r="6.5"/><circle cx="64.8" cy="624.2" r="6.5"/><circle cx="96.0" cy="597.0" r="6.5"/><circle cx="74.5" cy="611.2" r="6.5"/><circle cx="82.0" cy="610.5" r="6.5"/><circle cx="120.2" cy="580.2" r="6.5"/><circle cx="99.5" cy="608.0" r="6.5"/><circle cx="71.6" cy="625.5" r="6.5"/><circle cx="115.8" cy="583.0" r="6.5"/><circle cx="111.8" cy="592.0" r="6.5"/><circle cx="108.2" cy="596.2" r="6.5"/><circle cx="119.0" cy="592.0" r="6.5"/><circle cx="111.2" cy="592.8" r="6.5"/><circle cx="102.2" cy="604.8" r="6.5"/><circle cx="119.0" cy="580.8" r="6.5"/><circle cx="98.0" cy="607.0" r="6.5"/><circle cx="97.0" cy="596.0" r="6.5"/><circle cx="115.5" cy="591.5" r="6.5"/><circle cx="69.2" cy="611.0" r="6.5"/><circle cx="91.0" cy="598.5" r="6.5"/><circle cx="87.0" cy="610.0" r="6.5"/><circle cx="75.8" cy="616.8" r="6.5"/><circle cx="67.5" cy="613.2" r="6.5"/><circle cx="70.8" cy="608.0" r="6.5"/><circle cx="69.0" cy="624.8" r="6.5"/><circle cx="84.2" cy="600.0" r="6.5"/><circle cx="123.5" cy="575.5" r="6.5"/><circle cx="67.5" cy="618.5" r="6.5"/><circle cx="101.8" cy="602.5" r="6.5"/><circle cx="81.8" cy="610.0" r="6.5"/><circle cx="75.8" cy="618.8" r="6.5"/><circle cx="95.8" cy="594.5" r="6.5"/><circle cx="108.7" cy="580.2" r="6.5"/><circle cx="77.2" cy="616.5" r="6.5"/><circle cx="107.8" cy="587.8" r="6.5"/><circle cx="69.0" cy="617.2" r="6.5"/><circle cx="81.0" cy="607.8" r="6.5"/><circle cx="115.4" cy="599.7" r="6.5"/><circle cx="115.2" cy="593.5" r="6.5"/><circle cx="91.8" cy="607.8" r="6.5"/><circle cx="86.0" cy="609.2" r="6.5"/><circle cx="75.5" cy="619.2" r="6.5"/><circle cx="70.3" cy="606.0" r="6.5"/><circle cx="94.2" cy="602.2" r="6.5"/><circle cx="125.5" cy="578.5" r="6.5"/><circle cx="73.8" cy="616.2" r="6.5"/><circle cx="82.8" cy="607.8" r="6.5"/><circle cx="87.8" cy="608.0" r="6.5"/><circle cx="99.5" cy="587.5" r="6.5"/><circle cx="79.2" cy="603.8" r="6.5"/><circle cx="104.0" cy="586.5" r="6.5"/><circle cx="96.8" cy="590.8" r="6.5"/><circle cx="105.5" cy="583.2" r="6.5"/><circle cx="87.0" cy="603.2" r="6.5"/><circle cx="124.0" cy="584.2" r="6.5"/><circle cx="92.0" cy="604.8" r="6.5"/><circle cx="122.8" cy="581.2" r="6.5"/><circle cx="105.5" cy="601.2" r="6.5"/><circle cx="88.2" cy="608.5" r="6.5"/><circle cx="75.5" cy="617.5" r="6.5"/><circle cx="69.2" cy="612.2" r="6.5"/><circle cx="89.8" cy="593.6" r="6.5"/><circle cx="85.5" cy="615.5" r="6.5"/><circle cx="123.8" cy="578.5" r="6.5"/><circle cx="119.5" cy="581.5" r="6.5"/><circle cx="100.8" cy="587.0" r="6.5"/><circle cx="74.5" cy="621.5" r="6.5"/><circle cx="71.2" cy="617.0" r="6.5"/><circle cx="83.8" cy="610.8" r="6.5"/><circle cx="119.8" cy="576.8" r="6.5"/><circle cx="117.8" cy="580.2" r="6.5"/><circle cx="113.8" cy="593.2" r="6.5"/><circle cx="65.2" cy="620.0" r="6.5"/><circle cx="91.0" cy="608.2" r="6.5"/><circle cx="65.8" cy="618.0" r="6.5"/><circle cx="71.0" cy="614.5" r="6.5"/><circle cx="111.2" cy="584.8" r="6.5"/><circle cx="120.8" cy="579.0" r="6.5"/><circle cx="112.5" cy="592.5" r="6.5"/><circle cx="121.2" cy="581.2" r="6.5"/><circle cx="68.2" cy="623.2" r="6.5"/><circle cx="107.0" cy="597.2" r="6.5"/><circle cx="91.3" cy="614.8" r="6.5"/><circle cx="111.2" cy="585.8" r="6.5"/><circle cx="89.8" cy="610.8" r="6.5"/><circle cx="77.0" cy="614.2" r="6.5"/><circle cx="65.2" cy="621.2" r="6.5"/><circle cx="66.5" cy="621.8" r="6.5"/><circle cx="116.8" cy="584.2" r="6.5"/><circle cx="89.0" cy="601.8" r="6.5"/><circle cx="113.8" cy="580.2" r="6.5"/><circle cx="122.5" cy="584.5" r="6.5"/><circle cx="82.2" cy="622.0" r="6.5"/><circle cx="86.8" cy="600.0" r="6.5"/><circle cx="122.2" cy="583.5" r="6.5"/><circle cx="120.2" cy="592.0" r="6.5"/><circle cx="63.2" cy="621.8" r="6.5"/><circle cx="75.5" cy="621.5" r="6.5"/><circle cx="88.8" cy="613.5" r="6.5"/><circle cx="90.8" cy="602.2" r="6.5"/><circle cx="98.2" cy="600.8" r="6.5"/><circle cx="96.5" cy="600.2" r="6.5"/><circle cx="106.5" cy="599.5" r="6.5"/><circle cx="101.2" cy="597.5" r="6.5"/><circle cx="79.0" cy="612.8" r="6.5"/><circle cx="73.0" cy="617.2" r="6.5"/><circle cx="102.2" cy="607.5" r="6.5"/><circle cx="81.8" cy="616.5" r="6.5"/><circle cx="113.5" cy="597.0" r="6.5"/><circle cx="111.5" cy="581.8" r="6.5"/><circle cx="98.2" cy="598.8" r="6.5"/><circle cx="118.0" cy="575.2" r="6.5"/><circle cx="76.5" cy="618.0" r="6.5"/><circle cx="94.0" cy="609.8" r="6.5"/><circle cx="95.2" cy="594.2" r="6.5"/><circle cx="109.8" cy="582.0" r="6.5"/><circle cx="63.2" cy="623.8" r="6.5"/><circle cx="99.5" cy="588.0" r="6.5"/><circle cx="75.5" cy="607.5" r="6.5"/><circle cx="87.7" cy="620.0" r="6.5"/><circle cx="106.0" cy="583.0" r="6.5"/><circle cx="73.8" cy="616.5" r="6.5"/><circle cx="106.0" cy="589.0" r="6.5"/><circle cx="124.0" cy="588.8" r="6.5"/><circle cx="67.5" cy="612.5" r="6.5"/><circle cx="89.5" cy="596.8" r="6.5"/><circle cx="100.2" cy="588.5" r="6.5"/><circle cx="86.0" cy="615.0" r="6.5"/><circle cx="117.8" cy="580.0" r="6.5"/><circle cx="100.5" cy="599.2" r="6.5"/><circle cx="90.0" cy="601.0" r="6.5"/><circle cx="109.8" cy="582.5" r="6.5"/><circle cx="90.8" cy="596.2" r="6.5"/><circle cx="82.8" cy="612.8" r="6.5"/><circle cx="94.0" cy="606.5" r="6.5"/><circle cx="129.0" cy="574.5" r="6.5"/><circle cx="75.8" cy="605.0" r="6.5"/><circle cx="79.2" cy="613.5" r="6.5"/><circle cx="65.5" cy="616.0" r="6.5"/><circle cx="84.2" cy="601.5" r="6.5"/><circle cx="71.0" cy="623.8" r="6.5"/><circle cx="69.5" cy="617.2" r="6.5"/><circle cx="96.8" cy="602.5" r="6.5"/><circle cx="125.0" cy="584.0" r="6.5"/><circle cx="77.2" cy="614.0" r="6.5"/><circle cx="87.2" cy="613.8" r="6.5"/><circle cx="78.0" cy="609.2" r="6.5"/><circle cx="99.0" cy="588.0" r="6.5"/><circle cx="100.8" cy="600.8" r="6.5"/><circle cx="96.0" cy="603.2" r="6.5"/><circle cx="115.5" cy="591.2" r="6.5"/><circle cx="80.5" cy="613.8" r="6.5"/><circle cx="67.5" cy="618.0" r="6.5"/><circle cx="71.0" cy="615.5" r="6.5"/><circle cx="71.0" cy="608.5" r="6.5"/><circle cx="75.5" cy="608.5" r="6.5"/><circle cx="72.5" cy="607.5" r="6.5"/><circle cx="101.0" cy="599.2" r="6.5"/><circle cx="97.8" cy="595.8" r="6.5"/><circle cx="81.8" cy="614.2" r="6.5"/><circle cx="124.5" cy="577.2" r="6.5"/><circle cx="88.0" cy="600.5" r="6.5"/><circle cx="85.0" cy="612.0" r="6.5"/><circle cx="100.9" cy="609.4" r="6.5"/><circle cx="80.2" cy="607.5" r="6.5"/><circle cx="110.5" cy="595.2" r="6.5"/><circle cx="77.5" cy="616.2" r="6.5"/><circle cx="80.0" cy="610.2" r="6.5"/><circle cx="74.0" cy="619.2" r="6.5"/><circle cx="93.8" cy="606.8" r="6.5"/><circle cx="77.8" cy="615.8" r="6.5"/><circle cx="69.8" cy="614.5" r="6.5"/><circle cx="70.5" cy="623.2" r="6.5"/><circle cx="91.2" cy="602.0" r="6.5"/><circle cx="123.8" cy="586.8" r="6.5"/><circle cx="98.6" cy="585.9" r="6.5"/><circle cx="63.2" cy="618.8" r="6.5"/><circle cx="107.0" cy="589.5" r="6.5"/><circle cx="74.2" cy="609.5" r="6.5"/><circle cx="118.0" cy="592.0" r="6.5"/><circle cx="116.2" cy="581.2" r="6.5"/><circle cx="82.2" cy="607.0" r="6.5"/><circle cx="92.0" cy="599.5" r="6.5"/><circle cx="124.2" cy="583.0" r="6.5"/><circle cx="85.2" cy="607.5" r="6.5"/><circle cx="68.0" cy="616.8" r="6.5"/><circle cx="94.0" cy="608.8" r="6.5"/><circle cx="128.6" cy="580.9" r="6.5"/><circle cx="86.2" cy="609.0" r="6.5"/><circle cx="119.8" cy="580.8" r="6.5"/><circle cx="66.4" cy="626.3" r="6.5"/><circle cx="87.2" cy="604.5" r="6.5"/><circle cx="107.0" cy="586.0" r="6.5"/><circle cx="113.2" cy="595.8" r="6.5"/><circle cx="106.0" cy="595.0" r="6.5"/><circle cx="71.5" cy="613.2" r="6.5"/><circle cx="99.2" cy="589.5" r="6.5"/><circle cx="117.2" cy="592.2" r="6.5"/><circle cx="88.2" cy="611.5" r="6.5"/><circle cx="108.8" cy="581.8" r="6.5"/><circle cx="88.2" cy="609.2" r="6.5"/><circle cx="108.8" cy="586.5" r="6.5"/><circle cx="120.2" cy="578.8" r="6.5"/><circle cx="99.0" cy="604.2" r="6.5"/><circle cx="86.8" cy="600.2" r="6.5"/><circle cx="82.8" cy="610.0" r="6.5"/><circle cx="84.8" cy="618.2" r="6.5"/><circle cx="63.0" cy="618.8" r="6.5"/><circle cx="92.2" cy="595.5" r="6.5"/><circle cx="116.5" cy="587.2" r="6.5"/><circle cx="124.8" cy="580.5" r="6.5"/><circle cx="79.8" cy="619.5" r="6.5"/><circle cx="100.2" cy="597.8" r="6.5"/><circle cx="60.6" cy="624.6" r="6.5"/><circle cx="126.5" cy="581.0" r="6.5"/><circle cx="98.2" cy="601.0" r="6.5"/><circle cx="76.2" cy="607.0" r="6.5"/><circle cx="89.8" cy="612.5" r="6.5"/><circle cx="121.0" cy="586.0" r="6.5"/><circle cx="113.8" cy="584.2" r="6.5"/><circle cx="104.2" cy="590.2" r="6.5"/><circle cx="70.5" cy="609.0" r="6.5"/><circle cx="87.2" cy="597.0" r="6.5"/><circle cx="89.8" cy="596.2" r="6.5"/><circle cx="110.8" cy="598.0" r="6.5"/><circle cx="101.5" cy="591.2" r="6.5"/><circle cx="100.2" cy="596.2" r="6.5"/><circle cx="80.2" cy="600.5" r="6.5"/><circle cx="127.5" cy="581.2" r="6.5"/><circle cx="74.2" cy="622.8" r="6.5"/><circle cx="105.2" cy="597.0" r="6.5"/><circle cx="84.8" cy="603.8" r="6.5"/><circle cx="99.0" cy="608.5" r="6.5"/><circle cx="91.5" cy="612.0" r="6.5"/><circle cx="97.2" cy="590.5" r="6.5"/><circle cx="78.8" cy="602.2" r="6.5"/><circle cx="76.8" cy="613.0" r="6.5"/><circle cx="76.8" cy="608.5" r="6.5"/><circle cx="61.2" cy="614.5" r="6.5"/><circle cx="103.2" cy="606.5" r="6.5"/><circle cx="96.5" cy="597.0" r="6.5"/><circle cx="85.0" cy="605.0" r="6.5"/><circle cx="119.5" cy="584.8" r="6.5"/><circle cx="112.8" cy="595.5" r="6.5"/><circle cx="119.8" cy="584.8" r="6.5"/><circle cx="99.5" cy="598.0" r="6.5"/><circle cx="101.8" cy="601.5" r="6.5"/><circle cx="106.0" cy="592.2" r="6.5"/><circle cx="110.2" cy="583.5" r="6.5"/><circle cx="106.5" cy="593.5" r="6.5"/><circle cx="94.0" cy="608.0" r="6.5"/><circle cx="117.5" cy="578.2" r="6.5"/><circle cx="86.0" cy="604.0" r="6.5"/><circle cx="81.0" cy="605.5" r="6.5"/><circle cx="87.5" cy="611.0" r="6.5"/><circle cx="96.2" cy="590.5" r="6.5"/><circle cx="118.2" cy="589.2" r="6.5"/><circle cx="77.5" cy="617.0" r="6.5"/><circle cx="111.0" cy="593.0" r="6.5"/><circle cx="92.2" cy="599.8" r="6.5"/><circle cx="74.3" cy="601.4" r="6.5"/><circle cx="120.0" cy="587.5" r="6.5"/><circle cx="61.5" cy="618.8" r="6.5"/><circle cx="108.8" cy="582.2" r="6.5"/><circle cx="68.8" cy="617.5" r="6.5"/><circle cx="77.0" cy="612.8" r="6.5"/><circle cx="113.8" cy="587.5" r="6.5"/><circle cx="72.0" cy="612.0" r="6.5"/><circle cx="110.8" cy="582.0" r="6.5"/><circle cx="115.2" cy="586.0" r="6.5"/><circle cx="88.8" cy="602.2" r="6.5"/><circle cx="119.0" cy="585.5" r="6.5"/><circle cx="113.5" cy="579.5" r="6.5"/><circle cx="111.0" cy="587.8" r="6.5"/><circle cx="116.2" cy="584.5" r="6.5"/><circle cx="109.6" cy="602.7" r="6.5"/><circle cx="97.8" cy="598.5" r="6.5"/><circle cx="97.2" cy="593.8" r="6.5"/><circle cx="116.8" cy="579.2" r="6.5"/><circle cx="86.5" cy="599.2" r="6.5"/><circle cx="110.2" cy="599.5" r="6.5"/><circle cx="75.5" cy="616.8" r="6.5"/><circle cx="75.2" cy="621.2" r="6.5"/><circle cx="119.5" cy="586.8" r="6.5"/><circle cx="117.8" cy="589.8" r="6.5"/><circle cx="83.0" cy="611.2" r="6.5"/><circle cx="92.5" cy="602.2" r="6.5"/><circle cx="88.5" cy="597.5" r="6.5"/><circle cx="125.8" cy="584.5" r="6.5"/><circle cx="105.8" cy="586.0" r="6.5"/><circle cx="73.2" cy="616.0" r="6.5"/><circle cx="84.8" cy="603.5" r="6.5"/><circle cx="87.2" cy="616.0" r="6.5"/><circle cx="126.2" cy="575.2" r="6.5"/><circle cx="66.2" cy="624.5" r="6.5"/><circle cx="79.8" cy="605.0" r="6.5"/><circle cx="82.0" cy="600.8" r="6.5"/><circle cx="65.0" cy="615.0" r="6.5"/><circle cx="108.5" cy="597.2" r="6.5"/><circle cx="111.2" cy="592.2" r="6.5"/><circle cx="108.5" cy="598.8" r="6.5"/><circle cx="128.8" cy="575.2" r="6.5"/><circle cx="105.5" cy="584.0" r="6.5"/><circle cx="118.8" cy="591.0" r="6.5"/><circle cx="106.5" cy="590.5" r="6.5"/><circle cx="92.5" cy="605.8" r="6.5"/><circle cx="81.8" cy="606.2" r="6.5"/><circle cx="97.2" cy="599.8" r="6.5"/><circle cx="96.2" cy="602.8" r="6.5"/><circle cx="82.2" cy="600.8" r="6.5"/><circle cx="72.5" cy="612.5" r="6.5"/><circle cx="96.5" cy="608.8" r="6.5"/><circle cx="112.8" cy="598.0" r="6.5"/><circle cx="124.2" cy="580.5" r="6.5"/><circle cx="117.5" cy="594.8" r="6.5"/><circle cx="99.8" cy="590.0" r="6.5"/><circle cx="69.2" cy="622.5" r="6.5"/><circle cx="116.2" cy="582.0" r="6.5"/><circle cx="107.0" cy="592.2" r="6.5"/><circle cx="118.8" cy="588.8" r="6.5"/><circle cx="99.0" cy="604.5" r="6.5"/><circle cx="106.5" cy="588.2" r="6.5"/><circle cx="103.5" cy="584.2" r="6.5"/><circle cx="81.8" cy="617.2" r="6.5"/><circle cx="87.5" cy="602.5" r="6.5"/><circle cx="76.2" cy="616.2" r="6.5"/><circle cx="101.0" cy="598.5" r="6.5"/><circle cx="65.2" cy="614.8" r="6.5"/><circle cx="109.5" cy="591.5" r="6.5"/><circle cx="61.8" cy="620.0" r="6.5"/><circle cx="102.0" cy="590.8" r="6.5"/><circle cx="97.5" cy="589.5" r="6.5"/><circle cx="124.0" cy="573.9" r="6.5"/><circle cx="84.8" cy="613.8" r="6.5"/><circle cx="120.5" cy="590.2" r="6.5"/><circle cx="88.5" cy="608.2" r="6.5"/><circle cx="75.8" cy="622.5" r="6.5"/><circle cx="79.0" cy="612.0" r="6.5"/><circle cx="64.5" cy="622.2" r="6.5"/><circle cx="122.0" cy="583.5" r="6.5"/><circle cx="65.8" cy="613.5" r="6.5"/><circle cx="80.0" cy="617.2" r="6.5"/><circle cx="80.2" cy="618.5" r="6.5"/><circle cx="88.5" cy="603.2" r="6.5"/><circle cx="79.5" cy="607.5" r="6.5"/><circle cx="84.0" cy="601.2" r="6.5"/><circle cx="79.4" cy="599.1" r="6.5"/><circle cx="72.8" cy="608.5" r="6.5"/><circle cx="69.2" cy="619.8" r="6.5"/><circle cx="71.5" cy="607.5" r="6.5"/><circle cx="81.2" cy="602.2" r="6.5"/><circle cx="112.8" cy="577.7" r="6.5"/><circle cx="122.2" cy="585.2" r="6.5"/><circle cx="70.8" cy="611.5" r="6.5"/><circle cx="106.2" cy="584.8" r="6.5"/><circle cx="74.2" cy="615.8" r="6.5"/><circle cx="85.2" cy="603.5" r="6.5"/><circle cx="76.0" cy="604.0" r="6.5"/><circle cx="122.8" cy="578.5" r="6.5"/><circle cx="105.0" cy="586.5" r="6.5"/><circle cx="82.2" cy="613.0" r="6.5"/><circle cx="71.8" cy="613.0" r="6.5"/><circle cx="122.5" cy="575.5" r="6.5"/><circle cx="67.0" cy="620.5" r="6.5"/><circle cx="98.2" cy="597.5" r="6.5"/><circle cx="117.8" cy="591.0" r="6.5"/><circle cx="94.8" cy="604.0" r="6.5"/><circle cx="115.8" cy="591.8" r="6.5"/><circle cx="80.2" cy="610.8" r="6.5"/><circle cx="85.0" cy="597.3" r="6.5"/><circle cx="67.0" cy="612.2" r="6.5"/><circle cx="99.2" cy="594.8" r="6.5"/><circle cx="74.2" cy="605.2" r="6.5"/><circle cx="106.0" cy="594.2" r="6.5"/><circle cx="105.0" cy="585.2" r="6.5"/><circle cx="123.2" cy="587.8" r="6.5"/><circle cx="117.2" cy="591.2" r="6.5"/><circle cx="97.2" cy="598.0" r="6.5"/><circle cx="141.5" cy="573.0" r="6.5"/><circle cx="143.5" cy="566.9" r="6.5"/></g><g class="t"><text x="281.3" y="386.7" text-anchor="end">150.00</text><text x="281.3" y="432.3" text-anchor="end">100.00</text><text x="281.3" y="477.8" text-anchor="end">50.00</text><text x="281.3" y="523.4" text-anchor="end">0.00</text><text x="281.3" y="569.0" text-anchor="end">-50.00</text><text x="281.3" y="614.5" text-anchor="end">-100.00</text><text x="281.3" y="660.1" text-anchor="end">-150.00</text></g><g class="t"><text x="49.4" y="548.6" text-anchor="middle">-50.00</text><text x="149.6" y="548.6" text-anchor="middle">-30.00</text><text x="249.9" y="548.6" text-anchor="middle">-10.00</text><text x="350.1" y="548.6" text-anchor="middle">10.00</text><text x="450.4" y="548.6" text-anchor="middle">30.00</text><text x="550.6" y="548.6" text-anchor="middle">50.00</text></g><text transform="translate(17.3,551.5) rotate(-90)" text-anchor="middle" font-weight="bold" font-size="18.5">Financial Cost (£)</text><text x="324.6" y="683.0" text-anchor="middle" font-weight="bold" font-size="18.5">Environmental Cost (kgCO<tspan font-size="12.5" dy="4">2</tspan><tspan dy="-4">e)</tspan></text><text x="2" y="388.2" font-weight="bold" font-size="25">B</text><g font-size="10.8" stroke="#000" stroke-width="0.12"><text x="587.7" y="383" textLength="87.5" lengthAdjust="spacingAndGlyphs">Follow-up Model</text><rect x="587.7" y="384.8" width="87.6" height="1.1"/><ellipse cx="592.3" cy="410" rx="8.7" ry="7.95" fill="none" stroke="#346a87" stroke-width="4.0"/><ellipse cx="591.9" cy="455.5" rx="8.7" ry="8.4" fill="none" stroke="#358c1d" stroke-width="3.2"/><text x="620.4" y="406.8" textLength="40.3" lengthAdjust="spacingAndGlyphs">Remote</text><text x="620.4" y="422.8" textLength="19.4" lengthAdjust="spacingAndGlyphs">first</text><text x="621" y="439.5" font-weight="bold" textLength="56.5" lengthAdjust="spacingAndGlyphs">‘screening’</text><text x="620" y="452.7" textLength="63" lengthAdjust="spacingAndGlyphs">Remote first</text><text x="620.4" y="468.6" font-weight="bold" textLength="59.5" lengthAdjust="spacingAndGlyphs">‘treatment’</text></g><path d="M49.4,746.5L300.0,883.0L49.4,837.5ZM550.6,928.6L300.0,883.0L550.6,1019.6Z" fill="url(#hatch)"/><path d="M49.4,889.4V883.4H550.6V889.4M149.6,883.4v6M249.9,883.4v6M350.1,883.4v6M450.4,883.4v6M294.3,746.5H300.3V1019.6H294.3M294.3,792.0H300.3M294.3,837.5H300.3M294.3,883.0H300.3M294.3,928.6H300.3M294.3,974.1H300.3" fill="none" stroke="#777777" stroke-width="1.1"/><g fill="none" stroke="#346a87" stroke-width="2.0"><circle cx="187.2" cy="911.2" r="6.5"/><circle cx="172.1" cy="928.3" r="6.5"/><circle cx="145.5" cy="954.6" r="6.5"/><circle cx="137.4" cy="952.1" r="6.5"/><circle cx="182.3" cy="923.8" r="6.5"/><circle cx="185.9" cy="918.4" r="6.5"/><circle cx="117.9" cy="956.8" r="6.5"/><circle cx="118.2" cy="965.0" r="6.5"/><circle cx="129.9" cy="957.5" r="6.5"/><circle cx="197.6" cy="909.6" r="6.5"/><circle cx="166.5" cy="930.8" r="6.5"/><circle cx="185.1" cy="909.1" r="6.5"/><circle cx="170.7" cy="931.1" r="6.5"/><circle cx="125.6" cy="964.3" r="6.5"/><circle cx="138.3" cy="952.8" r="6.5"/><circle cx="143.8" cy="934.3" r="6.5"/><circle cx="118.9" cy="955.5" r="6.5"/><circle cx="137.7" cy="948.3" r="6.5"/><circle cx="128.6" cy="958.1" r="6.5"/><circle cx="146.1" cy="936.5" r="6.5"/><circle cx="193.0" cy="907.2" r="6.5"/><circle cx="184.8" cy="918.6" r="6.5"/><circle cx="132.8" cy="937.7" r="6.5"/><circle cx="157.8" cy="933.1" r="6.5"/><circle cx="172.6" cy="921.2" r="6.5"/><circle cx="143.0" cy="931.3" r="6.5"/><circle cx="126.0" cy="959.1" r="6.5"/><circle cx="177.0" cy="915.6" r="6.5"/><circle cx="180.9" cy="915.6" r="6.5"/><circle cx="119.9" cy="963.0" r="6.5"/><circle cx="190.1" cy="906.6" r="6.5"/><circle cx="170.2" cy="930.3" r="6.5"/><circle cx="134.3" cy="951.8" r="6.5"/><circle cx="183.0" cy="914.4" r="6.5"/><circle cx="156.8" cy="945.3" r="6.5"/><circle cx="181.6" cy="922.5" r="6.5"/><circle cx="151.9" cy="948.8" r="6.5"/><circle cx="185.2" cy="917.2" r="6.5"/><circle cx="151.7" cy="930.1" r="6.5"/><circle cx="137.9" cy="942.8" r="6.5"/><circle cx="172.3" cy="924.5" r="6.5"/><circle cx="136.2" cy="948.8" r="6.5"/><circle cx="188.6" cy="923.1" r="6.5"/><circle cx="117.5" cy="953.7" r="6.5"/><circle cx="187.5" cy="919.6" r="6.5"/><circle cx="138.3" cy="942.3" r="6.5"/><circle cx="186.2" cy="914.9" r="6.5"/><circle cx="154.2" cy="937.1" r="6.5"/><circle cx="131.5" cy="951.1" r="6.5"/><circle cx="153.5" cy="937.5" r="6.5"/><circle cx="174.1" cy="919.9" r="6.5"/><circle cx="150.6" cy="948.8" r="6.5"/><circle cx="174.8" cy="924.3" r="6.5"/><circle cx="163.2" cy="937.1" r="6.5"/><circle cx="134.7" cy="948.5" r="6.5"/><circle cx="134.1" cy="945.3" r="6.5"/><circle cx="179.7" cy="913.6" r="6.5"/><circle cx="194.5" cy="907.2" r="6.5"/><circle cx="127.7" cy="952.8" r="6.5"/><circle cx="180.1" cy="922.8" r="6.5"/><circle cx="140.6" cy="945.1" r="6.5"/><circle cx="197.6" cy="910.6" r="6.5"/><circle cx="129.4" cy="949.5" r="6.5"/><circle cx="148.0" cy="941.1" r="6.5"/><circle cx="197.9" cy="911.6" r="6.5"/><circle cx="133.5" cy="942.1" r="6.5"/><circle cx="194.7" cy="916.4" r="6.5"/><circle cx="191.7" cy="919.6" r="6.5"/><circle cx="116.0" cy="956.8" r="6.5"/><circle cx="168.7" cy="927.5" r="6.5"/><circle cx="150.5" cy="923.3" r="6.5"/><circle cx="119.5" cy="959.3" r="6.5"/><circle cx="132.8" cy="944.5" r="6.5"/><circle cx="179.4" cy="917.9" r="6.5"/><circle cx="136.4" cy="957.1" r="6.5"/><circle cx="126.7" cy="944.8" r="6.5"/><circle cx="132.3" cy="942.3" r="6.5"/><circle cx="119.2" cy="965.0" r="6.5"/><circle cx="192.7" cy="916.9" r="6.5"/><circle cx="197.9" cy="914.4" r="6.5"/><circle cx="169.4" cy="937.1" r="6.5"/><circle cx="121.4" cy="961.2" r="6.5"/><circle cx="142.8" cy="948.5" r="6.5"/><circle cx="180.7" cy="917.2" r="6.5"/><circle cx="122.4" cy="956.3" r="6.5"/><circle cx="151.9" cy="936.5" r="6.5"/><circle cx="144.7" cy="931.8" r="6.5"/><circle cx="146.1" cy="949.1" r="6.5"/><circle cx="165.2" cy="917.2" r="6.5"/><circle cx="157.6" cy="938.1" r="6.5"/><circle cx="197.4" cy="908.4" r="6.5"/><circle cx="141.1" cy="933.1" r="6.5"/><circle cx="156.1" cy="924.1" r="6.5"/><circle cx="184.3" cy="913.4" r="6.5"/><circle cx="129.9" cy="952.1" r="6.5"/><circle cx="138.9" cy="936.1" r="6.5"/><circle cx="132.8" cy="950.8" r="6.5"/><circle cx="178.1" cy="929.3" r="6.5"/><circle cx="107.1" cy="965.4" r="6.5"/><circle cx="142.0" cy="943.1" r="6.5"/><circle cx="174.8" cy="914.5" r="6.5"/><circle cx="150.8" cy="940.3" r="6.5"/><circle cx="132.8" cy="948.8" r="6.5"/><circle cx="137.3" cy="934.2" r="6.5"/><circle cx="135.5" cy="958.6" r="6.5"/><circle cx="157.6" cy="935.5" r="6.5"/><circle cx="177.0" cy="920.4" r="6.5"/><circle cx="165.1" cy="926.3" r="6.5"/><circle cx="192.3" cy="912.2" r="6.5"/><circle cx="143.8" cy="939.8" r="6.5"/><circle cx="144.7" cy="946.3" r="6.5"/><circle cx="127.0" cy="952.3" r="6.5"/><circle cx="179.7" cy="931.5" r="6.5"/><circle cx="146.4" cy="947.5" r="6.5"/><circle cx="141.3" cy="943.5" r="6.5"/><circle cx="136.0" cy="940.3" r="6.5"/><circle cx="190.4" cy="914.4" r="6.5"/><circle cx="150.6" cy="946.5" r="6.5"/><circle cx="145.4" cy="945.5" r="6.5"/><circle cx="134.1" cy="948.1" r="6.5"/><circle cx="199.3" cy="910.2" r="6.5"/><circle cx="196.4" cy="913.9" r="6.5"/><circle cx="144.7" cy="940.3" r="6.5"/><circle cx="183.0" cy="915.4" r="6.5"/><circle cx="152.2" cy="924.3" r="6.5"/><circle cx="113.7" cy="964.2" r="6.5"/><circle cx="112.7" cy="958.3" r="6.5"/><circle cx="149.3" cy="947.1" r="6.5"/><circle cx="170.4" cy="915.9" r="6.5"/><circle cx="166.3" cy="926.1" r="6.5"/><circle cx="180.9" cy="919.4" r="6.5"/><circle cx="148.3" cy="942.3" r="6.5"/><circle cx="127.3" cy="953.8" r="6.5"/><circle cx="148.0" cy="946.5" r="6.5"/><circle cx="143.2" cy="935.3" r="6.5"/><circle cx="172.1" cy="920.2" r="6.5"/><circle cx="179.9" cy="925.8" r="6.5"/><circle cx="158.3" cy="938.3" r="6.5"/><circle cx="184.6" cy="918.6" r="6.5"/><circle cx="153.5" cy="935.5" r="6.5"/><circle cx="126.7" cy="958.3" r="6.5"/><circle cx="132.8" cy="945.5" r="6.5"/><circle cx="173.5" cy="937.6" r="6.5"/><circle cx="187.9" cy="917.9" r="6.5"/><circle cx="169.7" cy="924.3" r="6.5"/><circle cx="127.7" cy="960.2" r="6.5"/><circle cx="200.1" cy="904.1" r="6.5"/><circle cx="153.9" cy="933.3" r="6.5"/><circle cx="193.3" cy="917.9" r="6.5"/><circle cx="170.0" cy="926.3" r="6.5"/><circle cx="117.0" cy="966.4" r="6.5"/><circle cx="167.8" cy="925.1" r="6.5"/><circle cx="177.5" cy="929.3" r="6.5"/><circle cx="198.8" cy="915.4" r="6.5"/><circle cx="190.6" cy="912.9" r="6.5"/><circle cx="177.2" cy="930.1" r="6.5"/><circle cx="197.9" cy="905.4" r="6.5"/><circle cx="123.6" cy="955.5" r="6.5"/><circle cx="128.2" cy="952.1" r="6.5"/><circle cx="174.8" cy="929.3" r="6.5"/><circle cx="151.0" cy="929.1" r="6.5"/><circle cx="183.1" cy="931.8" r="6.5"/><circle cx="160.0" cy="941.8" r="6.5"/><circle cx="167.5" cy="933.1" r="6.5"/><circle cx="116.0" cy="967.0" r="6.5"/><circle cx="191.7" cy="910.2" r="6.5"/><circle cx="146.4" cy="936.8" r="6.5"/><circle cx="117.3" cy="956.1" r="6.5"/><circle cx="165.3" cy="932.1" r="6.5"/><circle cx="137.4" cy="939.1" r="6.5"/><circle cx="152.9" cy="928.3" r="6.5"/><circle cx="188.2" cy="914.4" r="6.5"/><circle cx="191.5" cy="908.9" r="6.5"/><circle cx="179.7" cy="924.5" r="6.5"/><circle cx="104.2" cy="965.4" r="6.5"/><circle cx="123.8" cy="959.1" r="6.5"/><circle cx="145.4" cy="929.1" r="6.5"/><circle cx="124.7" cy="944.7" r="6.5"/><circle cx="181.8" cy="912.9" r="6.5"/><circle cx="177.8" cy="918.2" r="6.5"/><circle cx="123.8" cy="951.1" r="6.5"/><circle cx="134.5" cy="941.5" r="6.5"/><circle cx="187.2" cy="922.3" r="6.5"/><circle cx="172.6" cy="919.2" r="6.5"/><circle cx="158.7" cy="943.8" r="6.5"/><circle cx="174.1" cy="917.9" r="6.5"/><circle cx="111.2" cy="968.2" r="6.5"/><circle cx="130.4" cy="947.1" r="6.5"/><circle cx="111.4" cy="964.2" r="6.5"/><circle cx="118.2" cy="959.5" r="6.5"/><circle cx="187.9" cy="909.9" r="6.5"/><circle cx="175.8" cy="917.4" r="6.5"/><circle cx="123.4" cy="952.3" r="6.5"/><circle cx="187.1" cy="927.5" r="6.5"/><circle cx="152.9" cy="945.3" r="6.5"/><circle cx="116.0" cy="969.7" r="6.5"/><circle cx="178.0" cy="920.2" r="6.5"/><circle cx="142.2" cy="934.5" r="6.5"/><circle cx="163.6" cy="938.5" r="6.5"/><circle cx="114.6" cy="957.3" r="6.5"/><circle cx="189.8" cy="913.2" r="6.5"/><circle cx="115.8" cy="957.1" r="6.5"/><circle cx="134.5" cy="943.1" r="6.5"/><circle cx="176.8" cy="933.1" r="6.5"/><circle cx="143.0" cy="954.3" r="6.5"/><circle cx="140.9" cy="950.1" r="6.5"/><circle cx="159.5" cy="930.5" r="6.5"/><circle cx="152.7" cy="943.5" r="6.5"/><circle cx="184.0" cy="928.5" r="6.5"/><circle cx="127.9" cy="944.8" r="6.5"/><circle cx="123.8" cy="954.8" r="6.5"/><circle cx="142.0" cy="950.8" r="6.5"/><circle cx="185.5" cy="911.2" r="6.5"/><circle cx="160.4" cy="919.7" r="6.5"/><circle cx="110.8" cy="961.4" r="6.5"/><circle cx="144.2" cy="937.1" r="6.5"/><circle cx="130.0" cy="962.2" r="6.5"/><circle cx="137.0" cy="956.3" r="6.5"/><circle cx="161.9" cy="932.5" r="6.5"/><circle cx="169.7" cy="921.4" r="6.5"/><circle cx="109.0" cy="963.7" r="6.5"/><circle cx="110.0" cy="969.2" r="6.5"/><circle cx="121.8" cy="962.2" r="6.5"/><circle cx="181.1" cy="912.6" r="6.5"/><circle cx="164.4" cy="922.3" r="6.5"/><circle cx="192.7" cy="915.2" r="6.5"/><circle cx="146.7" cy="940.3" r="6.5"/><circle cx="159.7" cy="922.5" r="6.5"/><circle cx="151.0" cy="939.5" r="6.5"/><circle cx="144.0" cy="936.3" r="6.5"/><circle cx="146.7" cy="928.5" r="6.5"/><circle cx="153.5" cy="929.3" r="6.5"/><circle cx="155.8" cy="935.1" r="6.5"/><circle cx="135.0" cy="949.8" r="6.5"/><circle cx="155.1" cy="921.4" r="6.5"/><circle cx="144.2" cy="942.5" r="6.5"/><circle cx="185.5" cy="927.5" r="6.5"/><circle cx="122.4" cy="953.5" r="6.5"/><circle cx="135.2" cy="955.3" r="6.5"/><circle cx="163.7" cy="943.5" r="6.5"/><circle cx="155.8" cy="928.5" r="6.5"/><circle cx="140.6" cy="957.6" r="6.5"/><circle cx="168.8" cy="940.0" r="6.5"/><circle cx="156.8" cy="930.3" r="6.5"/><circle cx="152.2" cy="938.3" r="6.5"/><circle cx="176.5" cy="921.5" r="6.5"/><circle cx="108.2" cy="967.2" r="6.5"/><circle cx="137.2" cy="938.1" r="6.5"/><circle cx="68.0" cy="986.6" r="6.5"/><circle cx="169.2" cy="937.1" r="6.5"/><circle cx="157.8" cy="940.5" r="6.5"/><circle cx="146.1" cy="945.8" r="6.5"/><circle cx="146.7" cy="929.3" r="6.5"/><circle cx="139.1" cy="941.3" r="6.5"/><circle cx="142.8" cy="952.1" r="6.5"/><circle cx="139.3" cy="934.8" r="6.5"/><circle cx="101.7" cy="966.9" r="6.5"/><circle cx="151.0" cy="935.8" r="6.5"/><circle cx="198.3" cy="906.2" r="6.5"/><circle cx="192.5" cy="910.4" r="6.5"/><circle cx="119.9" cy="959.5" r="6.5"/><circle cx="175.5" cy="930.8" r="6.5"/><circle cx="202.0" cy="909.6" r="6.5"/><circle cx="108.5" cy="967.2" r="6.5"/><circle cx="140.3" cy="936.8" r="6.5"/><circle cx="153.9" cy="924.3" r="6.5"/><circle cx="158.3" cy="942.1" r="6.5"/><circle cx="187.5" cy="924.5" r="6.5"/><circle cx="182.8" cy="918.4" r="6.5"/><circle cx="149.9" cy="952.1" r="6.5"/><circle cx="165.3" cy="939.5" r="6.5"/><circle cx="149.6" cy="939.1" r="6.5"/><circle cx="149.8" cy="941.5" r="6.5"/><circle cx="129.2" cy="957.1" r="6.5"/><circle cx="152.9" cy="933.5" r="6.5"/><circle cx="146.4" cy="942.3" r="6.5"/><circle cx="134.7" cy="944.5" r="6.5"/><circle cx="189.4" cy="920.9" r="6.5"/><circle cx="130.4" cy="959.5" r="6.5"/><circle cx="122.1" cy="959.3" r="6.5"/><circle cx="177.2" cy="928.8" r="6.5"/><circle cx="150.0" cy="948.1" r="6.5"/><circle cx="182.3" cy="914.4" r="6.5"/><circle cx="171.2" cy="926.3" r="6.5"/><circle cx="126.7" cy="955.5" r="6.5"/><circle cx="141.3" cy="943.8" r="6.5"/><circle cx="184.3" cy="927.3" r="6.5"/><circle cx="191.4" cy="919.4" r="6.5"/><circle cx="187.5" cy="912.6" r="6.5"/><circle cx="154.8" cy="924.8" r="6.5"/><circle cx="176.5" cy="926.5" r="6.5"/><circle cx="193.0" cy="914.2" r="6.5"/><circle cx="187.9" cy="916.9" r="6.5"/><circle cx="170.7" cy="933.5" r="6.5"/><circle cx="171.4" cy="925.3" r="6.5"/><circle cx="166.8" cy="932.5" r="6.5"/><circle cx="115.3" cy="959.5" r="6.5"/><circle cx="139.9" cy="938.1" r="6.5"/><circle cx="137.4" cy="946.3" r="6.5"/><circle cx="160.7" cy="927.5" r="6.5"/><circle cx="195.9" cy="915.2" r="6.5"/><circle cx="113.7" cy="961.0" r="6.5"/><circle cx="183.8" cy="919.4" r="6.5"/><circle cx="131.8" cy="951.3" r="6.5"/><circle cx="161.9" cy="930.8" r="6.5"/><circle cx="143.0" cy="941.5" r="6.5"/><circle cx="164.8" cy="919.9" r="6.5"/><circle cx="135.0" cy="945.5" r="6.5"/><circle cx="171.0" cy="935.1" r="6.5"/><circle cx="179.4" cy="915.2" r="6.5"/><circle cx="107.7" cy="958.7" r="6.5"/><circle cx="149.6" cy="927.8" r="6.5"/><circle cx="140.9" cy="937.5" r="6.5"/><circle cx="130.4" cy="952.8" r="6.5"/><circle cx="165.5" cy="921.4" r="6.5"/><circle cx="189.8" cy="918.6" r="6.5"/><circle cx="141.1" cy="929.2" r="6.5"/><circle cx="153.5" cy="939.8" r="6.5"/><circle cx="206.1" cy="907.0" r="6.5"/><circle cx="142.8" cy="931.1" r="6.5"/><circle cx="162.6" cy="923.1" r="6.5"/><circle cx="129.6" cy="957.3" r="6.5"/><circle cx="169.7" cy="920.6" r="6.5"/><circle cx="113.4" cy="956.5" r="6.5"/><circle cx="195.3" cy="920.0" r="6.5"/><circle cx="140.3" cy="945.3" r="6.5"/><circle cx="128.2" cy="951.8" r="6.5"/><circle cx="154.5" cy="941.8" r="6.5"/><circle cx="104.3" cy="962.6" r="6.5"/><circle cx="153.9" cy="938.3" r="6.5"/><circle cx="154.5" cy="929.8" r="6.5"/><circle cx="202.7" cy="907.4" r="6.5"/><circle cx="143.5" cy="948.5" r="6.5"/><circle cx="170.7" cy="936.1" r="6.5"/><circle cx="153.9" cy="944.1" r="6.5"/><circle cx="194.9" cy="910.4" r="6.5"/><circle cx="180.4" cy="911.6" r="6.5"/><circle cx="140.9" cy="954.5" r="6.5"/><circle cx="111.9" cy="960.4" r="6.5"/><circle cx="146.4" cy="928.8" r="6.5"/><circle cx="140.6" cy="949.5" r="6.5"/><circle cx="106.9" cy="963.0" r="6.5"/><circle cx="191.4" cy="915.4" r="6.5"/><circle cx="138.9" cy="938.8" r="6.5"/><circle cx="193.3" cy="918.6" r="6.5"/><circle cx="160.5" cy="936.8" r="6.5"/><circle cx="189.8" cy="909.6" r="6.5"/><circle cx="180.9" cy="924.5" r="6.5"/><circle cx="173.6" cy="926.1" r="6.5"/><circle cx="141.1" cy="938.1" r="6.5"/><circle cx="131.5" cy="948.1" r="6.5"/><circle cx="143.8" cy="952.3" r="6.5"/><circle cx="112.7" cy="959.8" r="6.5"/><circle cx="169.2" cy="928.1" r="6.5"/><circle cx="173.6" cy="916.6" r="6.5"/><circle cx="173.3" cy="919.4" r="6.5"/><circle cx="189.4" cy="918.2" r="6.5"/><circle cx="189.6" cy="911.4" r="6.5"/><circle cx="138.9" cy="935.1" r="6.5"/><circle cx="165.1" cy="935.1" r="6.5"/><circle cx="184.6" cy="925.5" r="6.5"/><circle cx="172.1" cy="935.1" r="6.5"/><circle cx="144.7" cy="928.8" r="6.5"/><circle cx="168.2" cy="921.2" r="6.5"/><circle cx="144.2" cy="951.3" r="6.5"/><circle cx="196.9" cy="913.2" r="6.5"/><circle cx="116.0" cy="963.7" r="6.5"/><circle cx="140.3" cy="947.3" r="6.5"/><circle cx="143.8" cy="931.5" r="6.5"/><circle cx="190.4" cy="912.2" r="6.5"/><circle cx="188.6" cy="919.9" r="6.5"/><circle cx="120.2" cy="953.8" r="6.5"/><circle cx="159.5" cy="940.5" r="6.5"/><circle cx="157.1" cy="924.3" r="6.5"/><circle cx="168.2" cy="929.5" r="6.5"/><circle cx="126.3" cy="945.3" r="6.5"/><circle cx="131.3" cy="946.8" r="6.5"/><circle cx="117.9" cy="957.1" r="6.5"/><circle cx="170.7" cy="936.3" r="6.5"/><circle cx="191.5" cy="923.0" r="6.5"/><circle cx="153.5" cy="926.5" r="6.5"/><circle cx="197.2" cy="912.6" r="6.5"/><circle cx="145.4" cy="938.5" r="6.5"/><circle cx="177.8" cy="921.5" r="6.5"/><circle cx="131.3" cy="957.5" r="6.5"/><circle cx="143.5" cy="929.8" r="6.5"/><circle cx="165.8" cy="926.1" r="6.5"/><circle cx="144.0" cy="933.3" r="6.5"/><circle cx="162.6" cy="920.4" r="6.5"/><circle cx="109.5" cy="961.4" r="6.5"/><circle cx="143.5" cy="934.8" r="6.5"/><circle cx="131.3" cy="956.3" r="6.5"/><circle cx="140.1" cy="950.3" r="6.5"/><circle cx="158.3" cy="926.3" r="6.5"/><circle cx="202.2" cy="907.4" r="6.5"/><circle cx="159.1" cy="946.0" r="6.5"/><circle cx="161.9" cy="931.3" r="6.5"/><circle cx="146.4" cy="939.3" r="6.5"/><circle cx="113.1" cy="962.2" r="6.5"/><circle cx="126.5" cy="950.8" r="6.5"/><circle cx="138.1" cy="956.5" r="6.5"/><circle cx="156.4" cy="925.3" r="6.5"/><circle cx="137.4" cy="942.1" r="6.5"/><circle cx="177.8" cy="921.2" r="6.5"/><circle cx="153.5" cy="946.8" r="6.5"/><circle cx="131.8" cy="950.3" r="6.5"/><circle cx="195.6" cy="904.5" r="6.5"/><circle cx="178.9" cy="934.4" r="6.5"/><circle cx="160.5" cy="942.5" r="6.5"/><circle cx="167.5" cy="923.8" r="6.5"/><circle cx="180.4" cy="918.4" r="6.5"/><circle cx="127.3" cy="950.8" r="6.5"/><circle cx="173.1" cy="926.1" r="6.5"/><circle cx="164.6" cy="926.5" r="6.5"/><circle cx="144.6" cy="926.0" r="6.5"/><circle cx="202.2" cy="906.6" r="6.5"/><circle cx="144.5" cy="937.8" r="6.5"/><circle cx="128.6" cy="941.7" r="6.5"/><circle cx="137.7" cy="952.1" r="6.5"/><circle cx="142.0" cy="934.1" r="6.5"/><circle cx="165.3" cy="934.8" r="6.5"/><circle cx="117.0" cy="959.5" r="6.5"/><circle cx="169.7" cy="935.1" r="6.5"/><circle cx="138.3" cy="951.3" r="6.5"/><circle cx="136.0" cy="944.1" r="6.5"/><circle cx="185.2" cy="917.6" r="6.5"/><circle cx="147.9" cy="939.1" r="6.5"/><circle cx="146.1" cy="951.5" r="6.5"/><circle cx="144.9" cy="929.5" r="6.5"/><circle cx="190.4" cy="913.6" r="6.5"/><circle cx="174.6" cy="930.8" r="6.5"/><circle cx="165.5" cy="918.9" r="6.5"/><circle cx="164.8" cy="932.1" r="6.5"/><circle cx="154.5" cy="928.1" r="6.5"/><circle cx="164.2" cy="937.3" r="6.5"/><circle cx="137.0" cy="938.1" r="6.5"/><circle cx="121.1" cy="967.1" r="6.5"/><circle cx="111.8" cy="971.3" r="6.5"/><circle cx="179.7" cy="923.3" r="6.5"/><circle cx="141.3" cy="938.5" r="6.5"/><circle cx="154.2" cy="949.2" r="6.5"/><circle cx="147.1" cy="932.5" r="6.5"/><circle cx="175.5" cy="919.2" r="6.5"/><circle cx="147.4" cy="936.5" r="6.5"/><circle cx="143.0" cy="950.5" r="6.5"/><circle cx="141.5" cy="947.1" r="6.5"/><circle cx="184.9" cy="927.1" r="6.5"/><circle cx="183.6" cy="911.4" r="6.5"/><circle cx="116.7" cy="971.5" r="6.5"/><circle cx="152.2" cy="941.3" r="6.5"/><circle cx="158.3" cy="934.3" r="6.5"/><circle cx="174.3" cy="915.9" r="6.5"/><circle cx="138.1" cy="944.8" r="6.5"/><circle cx="145.7" cy="945.8" r="6.5"/><circle cx="125.7" cy="949.3" r="6.5"/><circle cx="196.4" cy="912.2" r="6.5"/><circle cx="156.4" cy="933.5" r="6.5"/><circle cx="123.8" cy="960.2" r="6.5"/><circle cx="171.0" cy="922.5" r="6.5"/><circle cx="132.5" cy="949.5" r="6.5"/><circle cx="106.1" cy="969.3" r="6.5"/><circle cx="137.4" cy="940.5" r="6.5"/><circle cx="202.6" cy="911.3" r="6.5"/><circle cx="133.5" cy="957.1" r="6.5"/><circle cx="108.5" cy="962.4" r="6.5"/><circle cx="153.7" cy="940.8" r="6.5"/><circle cx="179.1" cy="914.9" r="6.5"/><circle cx="139.3" cy="946.1" r="6.5"/><circle cx="168.4" cy="928.1" r="6.5"/><circle cx="141.3" cy="934.5" r="6.5"/><circle cx="159.0" cy="935.3" r="6.5"/><circle cx="135.7" cy="947.5" r="6.5"/><circle cx="151.3" cy="940.8" r="6.5"/><circle cx="131.2" cy="944.3" r="6.5"/><circle cx="144.2" cy="953.1" r="6.5"/><circle cx="166.1" cy="921.5" r="6.5"/><circle cx="132.3" cy="956.5" r="6.5"/><circle cx="152.5" cy="933.5" r="6.5"/><circle cx="158.5" cy="940.5" r="6.5"/><circle cx="121.4" cy="960.4" r="6.5"/><circle cx="172.1" cy="934.1" r="6.5"/><circle cx="158.3" cy="943.3" r="6.5"/><circle cx="177.2" cy="927.1" r="6.5"/><circle cx="194.3" cy="908.6" r="6.5"/><circle cx="120.5" cy="956.1" r="6.5"/><circle cx="122.2" cy="950.2" r="6.5"/><circle cx="191.4" cy="916.9" r="6.5"/><circle cx="167.3" cy="924.3" r="6.5"/><circle cx="138.1" cy="936.8" r="6.5"/><circle cx="140.3" cy="948.5" r="6.5"/><circle cx="113.9" cy="965.4" r="6.5"/><circle cx="115.0" cy="962.2" r="6.5"/><circle cx="137.0" cy="954.3" r="6.5"/><circle cx="162.9" cy="930.5" r="6.5"/><circle cx="182.6" cy="919.6" r="6.5"/><circle cx="112.9" cy="965.0" r="6.5"/><circle cx="154.7" cy="926.5" r="6.5"/><circle cx="202.1" cy="897.5" r="6.5"/><circle cx="207.2" cy="903.1" r="6.5"/><circle cx="216.6" cy="896.8" r="6.5"/><circle cx="89.0" cy="973.0" r="6.5"/><circle cx="94.9" cy="970.6" r="6.5"/><circle cx="100.9" cy="959.3" r="6.5"/><circle cx="113.7" cy="947.9" r="6.5"/><circle cx="116.2" cy="973.2" r="6.5"/><circle cx="118.7" cy="975.0" r="6.5"/><circle cx="132.3" cy="966.2" r="6.5"/><circle cx="92.5" cy="967.2" r="6.5"/><circle cx="97.8" cy="965.7" r="6.5"/><circle cx="103.2" cy="963.2" r="6.5"/><circle cx="101.2" cy="969.7" r="6.5"/><circle cx="107.1" cy="971.2" r="6.5"/><circle cx="111.0" cy="972.7" r="6.5"/><circle cx="105.1" cy="958.3" r="6.5"/></g><g fill="none" stroke="#358c1d" stroke-width="2.0"><circle cx="80.5" cy="984.8" r="6.5"/><circle cx="76.2" cy="979.8" r="6.5"/><circle cx="123.2" cy="944.0" r="6.5"/><circle cx="123.0" cy="953.2" r="6.5"/><circle cx="102.2" cy="969.8" r="6.5"/><circle cx="70.8" cy="976.5" r="6.5"/><circle cx="104.8" cy="967.2" r="6.5"/><circle cx="105.6" cy="973.0" r="6.5"/><circle cx="66.1" cy="977.0" r="6.5"/><circle cx="99.8" cy="957.2" r="6.5"/><circle cx="77.9" cy="990.0" r="6.5"/><circle cx="116.2" cy="963.0" r="6.5"/><circle cx="82.0" cy="979.0" r="6.5"/><circle cx="90.0" cy="978.5" r="6.5"/><circle cx="69.0" cy="983.2" r="6.5"/><circle cx="71.5" cy="990.0" r="6.5"/><circle cx="89.8" cy="978.2" r="6.5"/><circle cx="67.2" cy="983.8" r="6.5"/><circle cx="118.0" cy="946.2" r="6.5"/><circle cx="87.5" cy="964.0" r="6.5"/><circle cx="83.2" cy="985.2" r="6.5"/><circle cx="69.8" cy="979.5" r="6.5"/><circle cx="69.2" cy="990.2" r="6.5"/><circle cx="72.8" cy="989.0" r="6.5"/><circle cx="89.2" cy="966.5" r="6.5"/><circle cx="64.0" cy="990.5" r="6.5"/><circle cx="116.8" cy="951.8" r="6.5"/><circle cx="76.2" cy="975.2" r="6.5"/><circle cx="77.8" cy="974.8" r="6.5"/><circle cx="101.8" cy="956.2" r="6.5"/><circle cx="74.2" cy="975.5" r="6.5"/><circle cx="112.8" cy="956.0" r="6.5"/><circle cx="96.2" cy="966.5" r="6.5"/><circle cx="64.0" cy="984.2" r="6.5"/><circle cx="84.0" cy="969.2" r="6.5"/><circle cx="73.5" cy="987.5" r="6.5"/><circle cx="74.2" cy="988.2" r="6.5"/><circle cx="95.2" cy="969.0" r="6.5"/><circle cx="106.8" cy="966.0" r="6.5"/><circle cx="59.4" cy="985.2" r="6.5"/><circle cx="123.2" cy="951.2" r="6.5"/><circle cx="85.8" cy="979.5" r="6.5"/><circle cx="89.0" cy="977.8" r="6.5"/><circle cx="85.0" cy="972.2" r="6.5"/><circle cx="125.0" cy="950.5" r="6.5"/><circle cx="126.0" cy="950.5" r="6.5"/><circle cx="94.8" cy="959.2" r="6.5"/><circle cx="86.8" cy="967.2" r="6.5"/><circle cx="96.2" cy="962.5" r="6.5"/><circle cx="127.5" cy="953.5" r="6.5"/><circle cx="122.5" cy="954.5" r="6.5"/><circle cx="73.8" cy="980.0" r="6.5"/><circle cx="86.5" cy="969.8" r="6.5"/><circle cx="113.5" cy="958.8" r="6.5"/><circle cx="113.8" cy="961.8" r="6.5"/><circle cx="129.8" cy="938.8" r="6.5"/><circle cx="79.5" cy="973.5" r="6.5"/><circle cx="91.2" cy="977.0" r="6.5"/><circle cx="80.0" cy="986.0" r="6.5"/><circle cx="117.5" cy="952.0" r="6.5"/><circle cx="112.0" cy="959.8" r="6.5"/><circle cx="94.4" cy="977.1" r="6.5"/><circle cx="90.0" cy="974.0" r="6.5"/><circle cx="116.0" cy="957.5" r="6.5"/><circle cx="102.0" cy="972.0" r="6.5"/><circle cx="71.8" cy="985.5" r="6.5"/><circle cx="124.3" cy="957.8" r="6.5"/><circle cx="69.5" cy="990.0" r="6.5"/><circle cx="130.4" cy="942.5" r="6.5"/><circle cx="88.0" cy="967.5" r="6.5"/><circle cx="83.0" cy="980.8" r="6.5"/><circle cx="76.8" cy="976.2" r="6.5"/><circle cx="108.0" cy="966.8" r="6.5"/><circle cx="88.8" cy="970.0" r="6.5"/><circle cx="123.0" cy="954.8" r="6.5"/><circle cx="101.0" cy="959.2" r="6.5"/><circle cx="114.2" cy="958.5" r="6.5"/><circle cx="68.2" cy="983.0" r="6.5"/><circle cx="100.5" cy="965.8" r="6.5"/><circle cx="83.5" cy="974.0" r="6.5"/><circle cx="84.0" cy="976.8" r="6.5"/><circle cx="116.2" cy="945.8" r="6.5"/><circle cx="129.2" cy="942.2" r="6.5"/><circle cx="94.8" cy="956.8" r="6.5"/><circle cx="71.5" cy="988.0" r="6.5"/><circle cx="111.0" cy="963.2" r="6.5"/><circle cx="70.5" cy="980.5" r="6.5"/><circle cx="107.0" cy="955.5" r="6.5"/><circle cx="127.5" cy="942.0" r="6.5"/><circle cx="67.8" cy="984.2" r="6.5"/><circle cx="110.2" cy="960.8" r="6.5"/><circle cx="119.7" cy="962.5" r="6.5"/><circle cx="111.5" cy="953.5" r="6.5"/><circle cx="115.5" cy="953.0" r="6.5"/><circle cx="77.8" cy="985.0" r="6.5"/><circle cx="121.2" cy="947.2" r="6.5"/><circle cx="112.2" cy="954.2" r="6.5"/><circle cx="90.8" cy="967.8" r="6.5"/><circle cx="125.2" cy="949.0" r="6.5"/><circle cx="102.5" cy="966.0" r="6.5"/><circle cx="100.0" cy="953.8" r="6.5"/><circle cx="104.8" cy="964.8" r="6.5"/><circle cx="103.4" cy="948.2" r="6.5"/><circle cx="77.0" cy="983.8" r="6.5"/><circle cx="103.5" cy="954.0" r="6.5"/><circle cx="105.2" cy="955.0" r="6.5"/><circle cx="64.8" cy="990.5" r="6.5"/><circle cx="96.0" cy="963.2" r="6.5"/><circle cx="74.5" cy="977.5" r="6.5"/><circle cx="82.0" cy="976.8" r="6.5"/><circle cx="120.2" cy="946.5" r="6.5"/><circle cx="99.5" cy="974.2" r="6.5"/><circle cx="71.6" cy="991.8" r="6.5"/><circle cx="115.8" cy="949.2" r="6.5"/><circle cx="111.8" cy="958.2" r="6.5"/><circle cx="108.2" cy="962.5" r="6.5"/><circle cx="119.0" cy="958.2" r="6.5"/><circle cx="111.2" cy="959.0" r="6.5"/><circle cx="102.2" cy="971.0" r="6.5"/><circle cx="119.0" cy="947.0" r="6.5"/><circle cx="98.0" cy="973.2" r="6.5"/><circle cx="97.0" cy="962.2" r="6.5"/><circle cx="115.5" cy="957.8" r="6.5"/><circle cx="69.2" cy="977.2" r="6.5"/><circle cx="91.0" cy="964.8" r="6.5"/><circle cx="87.0" cy="976.2" r="6.5"/><circle cx="75.8" cy="983.0" r="6.5"/><circle cx="67.5" cy="979.5" r="6.5"/><circle cx="70.8" cy="974.2" r="6.5"/><circle cx="69.0" cy="991.0" r="6.5"/><circle cx="84.2" cy="966.2" r="6.5"/><circle cx="123.5" cy="941.8" r="6.5"/><circle cx="67.5" cy="984.8" r="6.5"/><circle cx="101.8" cy="968.8" r="6.5"/><circle cx="81.8" cy="976.2" r="6.5"/><circle cx="75.8" cy="985.0" r="6.5"/><circle cx="95.8" cy="960.8" r="6.5"/><circle cx="108.7" cy="946.5" r="6.5"/><circle cx="77.2" cy="982.8" r="6.5"/><circle cx="107.8" cy="954.0" r="6.5"/><circle cx="69.0" cy="983.5" r="6.5"/><circle cx="81.0" cy="974.0" r="6.5"/><circle cx="115.4" cy="966.0" r="6.5"/><circle cx="115.2" cy="959.8" r="6.5"/><circle cx="91.8" cy="974.0" r="6.5"/><circle cx="86.0" cy="975.5" r="6.5"/><circle cx="75.5" cy="985.5" r="6.5"/><circle cx="70.3" cy="972.2" r="6.5"/><circle cx="94.2" cy="968.5" r="6.5"/><circle cx="125.5" cy="944.8" r="6.5"/><circle cx="73.8" cy="982.5" r="6.5"/><circle cx="82.8" cy="974.0" r="6.5"/><circle cx="87.8" cy="974.2" r="6.5"/><circle cx="99.5" cy="953.8" r="6.5"/><circle cx="79.2" cy="970.0" r="6.5"/><circle cx="104.0" cy="952.8" r="6.5"/><circle cx="96.8" cy="957.0" r="6.5"/><circle cx="105.5" cy="949.5" r="6.5"/><circle cx="87.0" cy="969.5" r="6.5"/><circle cx="124.0" cy="950.5" r="6.5"/><circle cx="92.0" cy="971.0" r="6.5"/><circle cx="122.8" cy="947.5" r="6.5"/><circle cx="105.5" cy="967.5" r="6.5"/><circle cx="88.2" cy="974.8" r="6.5"/><circle cx="75.5" cy="983.8" r="6.5"/><circle cx="69.2" cy="978.5" r="6.5"/><circle cx="89.8" cy="959.9" r="6.5"/><circle cx="85.5" cy="981.8" r="6.5"/><circle cx="123.8" cy="944.8" r="6.5"/><circle cx="119.5" cy="947.8" r="6.5"/><circle cx="100.8" cy="953.2" r="6.5"/><circle cx="74.5" cy="987.8" r="6.5"/><circle cx="71.2" cy="983.2" r="6.5"/><circle cx="83.8" cy="977.0" r="6.5"/><circle cx="119.8" cy="943.0" r="6.5"/><circle cx="117.8" cy="946.5" r="6.5"/><circle cx="113.8" cy="959.5" r="6.5"/><circle cx="65.2" cy="986.2" r="6.5"/><circle cx="91.0" cy="974.5" r="6.5"/><circle cx="65.8" cy="984.2" r="6.5"/><circle cx="71.0" cy="980.8" r="6.5"/><circle cx="111.2" cy="951.0" r="6.5"/><circle cx="120.8" cy="945.2" r="6.5"/><circle cx="112.5" cy="958.8" r="6.5"/><circle cx="121.2" cy="947.5" r="6.5"/><circle cx="68.2" cy="989.5" r="6.5"/><circle cx="107.0" cy="963.5" r="6.5"/><circle cx="91.3" cy="981.0" r="6.5"/><circle cx="111.2" cy="952.0" r="6.5"/><circle cx="89.8" cy="977.0" r="6.5"/><circle cx="77.0" cy="980.5" r="6.5"/><circle cx="65.2" cy="987.5" r="6.5"/><circle cx="66.5" cy="988.0" r="6.5"/><circle cx="116.8" cy="950.5" r="6.5"/><circle cx="89.0" cy="968.0" r="6.5"/><circle cx="113.8" cy="946.5" r="6.5"/><circle cx="122.5" cy="950.8" r="6.5"/><circle cx="82.2" cy="988.2" r="6.5"/><circle cx="86.8" cy="966.2" r="6.5"/><circle cx="122.2" cy="949.8" r="6.5"/><circle cx="120.2" cy="958.2" r="6.5"/><circle cx="63.2" cy="988.0" r="6.5"/><circle cx="75.5" cy="987.8" r="6.5"/><circle cx="88.8" cy="979.8" r="6.5"/><circle cx="90.8" cy="968.5" r="6.5"/><circle cx="98.2" cy="967.0" r="6.5"/><circle cx="96.5" cy="966.5" r="6.5"/><circle cx="106.5" cy="965.8" r="6.5"/><circle cx="101.2" cy="963.8" r="6.5"/><circle cx="79.0" cy="979.0" r="6.5"/><circle cx="73.0" cy="983.5" r="6.5"/><circle cx="102.2" cy="973.8" r="6.5"/><circle cx="81.8" cy="982.8" r="6.5"/><circle cx="113.5" cy="963.2" r="6.5"/><circle cx="111.5" cy="948.0" r="6.5"/><circle cx="98.2" cy="965.0" r="6.5"/><circle cx="118.0" cy="941.5" r="6.5"/><circle cx="76.5" cy="984.2" r="6.5"/><circle cx="94.0" cy="976.0" r="6.5"/><circle cx="95.2" cy="960.5" r="6.5"/><circle cx="109.8" cy="948.2" r="6.5"/><circle cx="63.2" cy="990.0" r="6.5"/><circle cx="99.5" cy="954.2" r="6.5"/><circle cx="75.5" cy="973.8" r="6.5"/><circle cx="87.7" cy="986.2" r="6.5"/><circle cx="106.0" cy="949.2" r="6.5"/><circle cx="73.8" cy="982.8" r="6.5"/><circle cx="106.0" cy="955.2" r="6.5"/><circle cx="124.0" cy="955.0" r="6.5"/><circle cx="67.5" cy="978.8" r="6.5"/><circle cx="89.5" cy="963.0" r="6.5"/><circle cx="100.2" cy="954.8" r="6.5"/><circle cx="86.0" cy="981.2" r="6.5"/><circle cx="117.8" cy="946.2" r="6.5"/><circle cx="100.5" cy="965.5" r="6.5"/><circle cx="90.0" cy="967.2" r="6.5"/><circle cx="109.8" cy="948.8" r="6.5"/><circle cx="90.8" cy="962.5" r="6.5"/><circle cx="82.8" cy="979.0" r="6.5"/><circle cx="94.0" cy="972.8" r="6.5"/><circle cx="129.0" cy="940.8" r="6.5"/><circle cx="75.8" cy="971.2" r="6.5"/><circle cx="79.2" cy="979.8" r="6.5"/><circle cx="65.5" cy="982.2" r="6.5"/><circle cx="84.2" cy="967.8" r="6.5"/><circle cx="71.0" cy="990.0" r="6.5"/><circle cx="69.5" cy="983.5" r="6.5"/><circle cx="96.8" cy="968.8" r="6.5"/><circle cx="125.0" cy="950.2" r="6.5"/><circle cx="77.2" cy="980.2" r="6.5"/><circle cx="87.2" cy="980.0" r="6.5"/><circle cx="78.0" cy="975.5" r="6.5"/><circle cx="99.0" cy="954.2" r="6.5"/><circle cx="100.8" cy="967.0" r="6.5"/><circle cx="96.0" cy="969.5" r="6.5"/><circle cx="115.5" cy="957.5" r="6.5"/><circle cx="80.5" cy="980.0" r="6.5"/><circle cx="67.5" cy="984.2" r="6.5"/><circle cx="71.0" cy="981.8" r="6.5"/><circle cx="71.0" cy="974.8" r="6.5"/><circle cx="75.5" cy="974.8" r="6.5"/><circle cx="72.5" cy="973.8" r="6.5"/><circle cx="101.0" cy="965.5" r="6.5"/><circle cx="97.8" cy="962.0" r="6.5"/><circle cx="81.8" cy="980.5" r="6.5"/><circle cx="124.5" cy="943.5" r="6.5"/><circle cx="88.0" cy="966.8" r="6.5"/><circle cx="85.0" cy="978.2" r="6.5"/><circle cx="100.9" cy="975.6" r="6.5"/><circle cx="80.2" cy="973.8" r="6.5"/><circle cx="110.5" cy="961.5" r="6.5"/><circle cx="77.5" cy="982.5" r="6.5"/><circle cx="80.0" cy="976.5" r="6.5"/><circle cx="74.0" cy="985.5" r="6.5"/><circle cx="93.8" cy="973.0" r="6.5"/><circle cx="77.8" cy="982.0" r="6.5"/><circle cx="69.8" cy="980.8" r="6.5"/><circle cx="70.5" cy="989.5" r="6.5"/><circle cx="91.2" cy="968.2" r="6.5"/><circle cx="123.8" cy="953.0" r="6.5"/><circle cx="98.6" cy="952.1" r="6.5"/><circle cx="63.2" cy="985.0" r="6.5"/><circle cx="107.0" cy="955.8" r="6.5"/><circle cx="74.2" cy="975.8" r="6.5"/><circle cx="118.0" cy="958.2" r="6.5"/><circle cx="116.2" cy="947.5" r="6.5"/><circle cx="82.2" cy="973.2" r="6.5"/><circle cx="92.0" cy="965.8" r="6.5"/><circle cx="124.2" cy="949.2" r="6.5"/><circle cx="85.2" cy="973.8" r="6.5"/><circle cx="68.0" cy="983.0" r="6.5"/><circle cx="94.0" cy="975.0" r="6.5"/><circle cx="128.6" cy="947.1" r="6.5"/><circle cx="86.2" cy="975.2" r="6.5"/><circle cx="119.8" cy="947.0" r="6.5"/><circle cx="66.4" cy="992.5" r="6.5"/><circle cx="87.2" cy="970.8" r="6.5"/><circle cx="107.0" cy="952.2" r="6.5"/><circle cx="113.2" cy="962.0" r="6.5"/><circle cx="106.0" cy="961.2" r="6.5"/><circle cx="71.5" cy="979.5" r="6.5"/><circle cx="99.2" cy="955.8" r="6.5"/><circle cx="117.2" cy="958.5" r="6.5"/><circle cx="88.2" cy="977.8" r="6.5"/><circle cx="108.8" cy="948.0" r="6.5"/><circle cx="88.2" cy="975.5" r="6.5"/><circle cx="108.8" cy="952.8" r="6.5"/><circle cx="120.2" cy="945.0" r="6.5"/><circle cx="99.0" cy="970.5" r="6.5"/><circle cx="86.8" cy="966.5" r="6.5"/><circle cx="82.8" cy="976.2" r="6.5"/><circle cx="84.8" cy="984.5" r="6.5"/><circle cx="63.0" cy="985.0" r="6.5"/><circle cx="92.2" cy="961.8" r="6.5"/><circle cx="116.5" cy="953.5" r="6.5"/><circle cx="124.8" cy="946.8" r="6.5"/><circle cx="79.8" cy="985.8" r="6.5"/><circle cx="100.2" cy="964.0" r="6.5"/><circle cx="60.6" cy="990.9" r="6.5"/><circle cx="126.5" cy="947.2" r="6.5"/><circle cx="98.2" cy="967.2" r="6.5"/><circle cx="76.2" cy="973.2" r="6.5"/><circle cx="89.8" cy="978.8" r="6.5"/><circle cx="121.0" cy="952.2" r="6.5"/><circle cx="113.8" cy="950.5" r="6.5"/><circle cx="104.2" cy="956.5" r="6.5"/><circle cx="70.5" cy="975.2" r="6.5"/><circle cx="87.2" cy="963.2" r="6.5"/><circle cx="89.8" cy="962.5" r="6.5"/><circle cx="110.8" cy="964.2" r="6.5"/><circle cx="101.5" cy="957.5" r="6.5"/><circle cx="100.2" cy="962.5" r="6.5"/><circle cx="80.2" cy="966.8" r="6.5"/><circle cx="127.5" cy="947.5" r="6.5"/><circle cx="74.2" cy="989.0" r="6.5"/><circle cx="105.2" cy="963.2" r="6.5"/><circle cx="84.8" cy="970.0" r="6.5"/><circle cx="99.0" cy="974.8" r="6.5"/><circle cx="91.5" cy="978.2" r="6.5"/><circle cx="97.2" cy="956.8" r="6.5"/><circle cx="78.8" cy="968.5" r="6.5"/><circle cx="76.8" cy="979.2" r="6.5"/><circle cx="76.8" cy="974.8" r="6.5"/><circle cx="61.2" cy="980.8" r="6.5"/><circle cx="103.2" cy="972.8" r="6.5"/><circle cx="96.5" cy="963.2" r="6.5"/><circle cx="85.0" cy="971.2" r="6.5"/><circle cx="119.5" cy="951.0" r="6.5"/><circle cx="112.8" cy="961.8" r="6.5"/><circle cx="119.8" cy="951.0" r="6.5"/><circle cx="99.5" cy="964.2" r="6.5"/><circle cx="101.8" cy="967.8" r="6.5"/><circle cx="106.0" cy="958.5" r="6.5"/><circle cx="110.2" cy="949.8" r="6.5"/><circle cx="106.5" cy="959.8" r="6.5"/><circle cx="94.0" cy="974.2" r="6.5"/><circle cx="117.5" cy="944.5" r="6.5"/><circle cx="86.0" cy="970.2" r="6.5"/><circle cx="81.0" cy="971.8" r="6.5"/><circle cx="87.5" cy="977.2" r="6.5"/><circle cx="96.2" cy="956.8" r="6.5"/><circle cx="118.2" cy="955.5" r="6.5"/><circle cx="77.5" cy="983.2" r="6.5"/><circle cx="111.0" cy="959.2" r="6.5"/><circle cx="92.2" cy="966.0" r="6.5"/><circle cx="74.3" cy="967.6" r="6.5"/><circle cx="120.0" cy="953.8" r="6.5"/><circle cx="61.5" cy="985.0" r="6.5"/><circle cx="108.8" cy="948.5" r="6.5"/><circle cx="68.8" cy="983.8" r="6.5"/><circle cx="77.0" cy="979.0" r="6.5"/><circle cx="113.8" cy="953.8" r="6.5"/><circle cx="72.0" cy="978.2" r="6.5"/><circle cx="110.8" cy="948.2" r="6.5"/><circle cx="115.2" cy="952.2" r="6.5"/><circle cx="88.8" cy="968.5" r="6.5"/><circle cx="119.0" cy="951.8" r="6.5"/><circle cx="113.5" cy="945.8" r="6.5"/><circle cx="111.0" cy="954.0" r="6.5"/><circle cx="116.2" cy="950.8" r="6.5"/><circle cx="109.6" cy="969.0" r="6.5"/><circle cx="97.8" cy="964.8" r="6.5"/><circle cx="97.2" cy="960.0" r="6.5"/><circle cx="116.8" cy="945.5" r="6.5"/><circle cx="86.5" cy="965.5" r="6.5"/><circle cx="110.2" cy="965.8" r="6.5"/><circle cx="75.5" cy="983.0" r="6.5"/><circle cx="75.2" cy="987.5" r="6.5"/><circle cx="119.5" cy="953.0" r="6.5"/><circle cx="117.8" cy="956.0" r="6.5"/><circle cx="83.0" cy="977.5" r="6.5"/><circle cx="92.5" cy="968.5" r="6.5"/><circle cx="88.5" cy="963.8" r="6.5"/><circle cx="125.8" cy="950.8" r="6.5"/><circle cx="105.8" cy="952.2" r="6.5"/><circle cx="73.2" cy="982.2" r="6.5"/><circle cx="84.8" cy="969.8" r="6.5"/><circle cx="87.2" cy="982.2" r="6.5"/><circle cx="126.2" cy="941.5" r="6.5"/><circle cx="66.2" cy="990.8" r="6.5"/><circle cx="79.8" cy="971.2" r="6.5"/><circle cx="82.0" cy="967.0" r="6.5"/><circle cx="65.0" cy="981.2" r="6.5"/><circle cx="108.5" cy="963.5" r="6.5"/><circle cx="111.2" cy="958.5" r="6.5"/><circle cx="108.5" cy="965.0" r="6.5"/><circle cx="128.8" cy="941.5" r="6.5"/><circle cx="105.5" cy="950.2" r="6.5"/><circle cx="118.8" cy="957.2" r="6.5"/><circle cx="106.5" cy="956.8" r="6.5"/><circle cx="92.5" cy="972.0" r="6.5"/><circle cx="81.8" cy="972.5" r="6.5"/><circle cx="97.2" cy="966.0" r="6.5"/><circle cx="96.2" cy="969.0" r="6.5"/><circle cx="82.2" cy="967.0" r="6.5"/><circle cx="72.5" cy="978.8" r="6.5"/><circle cx="96.5" cy="975.0" r="6.5"/><circle cx="112.8" cy="964.2" r="6.5"/><circle cx="124.2" cy="946.8" r="6.5"/><circle cx="117.5" cy="961.0" r="6.5"/><circle cx="99.8" cy="956.2" r="6.5"/><circle cx="69.2" cy="988.8" r="6.5"/><circle cx="116.2" cy="948.2" r="6.5"/><circle cx="107.0" cy="958.5" r="6.5"/><circle cx="118.8" cy="955.0" r="6.5"/><circle cx="99.0" cy="970.8" r="6.5"/><circle cx="106.5" cy="954.5" r="6.5"/><circle cx="103.5" cy="950.5" r="6.5"/><circle cx="81.8" cy="983.5" r="6.5"/><circle cx="87.5" cy="968.8" r="6.5"/><circle cx="76.2" cy="982.5" r="6.5"/><circle cx="101.0" cy="964.8" r="6.5"/><circle cx="65.2" cy="981.0" r="6.5"/><circle cx="109.5" cy="957.8" r="6.5"/><circle cx="61.8" cy="986.2" r="6.5"/><circle cx="102.0" cy="957.0" r="6.5"/><circle cx="97.5" cy="955.8" r="6.5"/><circle cx="124.0" cy="940.1" r="6.5"/><circle cx="84.8" cy="980.0" r="6.5"/><circle cx="120.5" cy="956.5" r="6.5"/><circle cx="88.5" cy="974.5" r="6.5"/><circle cx="75.8" cy="988.8" r="6.5"/><circle cx="79.0" cy="978.2" r="6.5"/><circle cx="64.5" cy="988.5" r="6.5"/><circle cx="122.0" cy="949.8" r="6.5"/><circle cx="65.8" cy="979.8" r="6.5"/><circle cx="80.0" cy="983.5" r="6.5"/><circle cx="80.2" cy="984.8" r="6.5"/><circle cx="88.5" cy="969.5" r="6.5"/><circle cx="79.5" cy="973.8" r="6.5"/><circle cx="84.0" cy="967.5" r="6.5"/><circle cx="79.4" cy="965.4" r="6.5"/><circle cx="72.8" cy="974.8" r="6.5"/><circle cx="69.2" cy="986.0" r="6.5"/><circle cx="71.5" cy="973.8" r="6.5"/><circle cx="81.2" cy="968.5" r="6.5"/><circle cx="112.8" cy="944.0" r="6.5"/><circle cx="122.2" cy="951.5" r="6.5"/><circle cx="70.8" cy="977.8" r="6.5"/><circle cx="106.2" cy="951.0" r="6.5"/><circle cx="74.2" cy="982.0" r="6.5"/><circle cx="85.2" cy="969.8" r="6.5"/><circle cx="76.0" cy="970.2" r="6.5"/><circle cx="122.8" cy="944.8" r="6.5"/><circle cx="105.0" cy="952.8" r="6.5"/><circle cx="82.2" cy="979.2" r="6.5"/><circle cx="71.8" cy="979.2" r="6.5"/><circle cx="122.5" cy="941.8" r="6.5"/><circle cx="67.0" cy="986.8" r="6.5"/><circle cx="98.2" cy="963.8" r="6.5"/><circle cx="117.8" cy="957.2" r="6.5"/><circle cx="94.8" cy="970.2" r="6.5"/><circle cx="115.8" cy="958.0" r="6.5"/><circle cx="80.2" cy="977.0" r="6.5"/><circle cx="85.0" cy="963.5" r="6.5"/><circle cx="67.0" cy="978.5" r="6.5"/><circle cx="99.2" cy="961.0" r="6.5"/><circle cx="74.2" cy="971.5" r="6.5"/><circle cx="106.0" cy="960.5" r="6.5"/><circle cx="105.0" cy="951.5" r="6.5"/><circle cx="123.2" cy="954.0" r="6.5"/><circle cx="117.2" cy="957.5" r="6.5"/><circle cx="97.2" cy="964.2" r="6.5"/><circle cx="141.5" cy="939.2" r="6.5"/><circle cx="143.5" cy="933.1" r="6.5"/></g><g class="t"><text x="281.3" y="753.1" text-anchor="end">150.00</text><text x="281.3" y="798.6" text-anchor="end">100.00</text><text x="281.3" y="844.1" text-anchor="end">50.00</text><text x="281.3" y="889.6" text-anchor="end">0.00</text><text x="281.3" y="935.2" text-anchor="end">-50.00</text><text x="281.3" y="980.7" text-anchor="end">-100.00</text><text x="281.3" y="1026.2" text-anchor="end">-150.00</text></g><g class="t"><text x="49.4" y="915.0" text-anchor="middle">-50.00</text><text x="149.6" y="915.0" text-anchor="middle">-30.00</text><text x="249.9" y="915.0" text-anchor="middle">-10.00</text><text x="350.1" y="915.0" text-anchor="middle">10.00</text><text x="450.4" y="915.0" text-anchor="middle">30.00</text><text x="550.6" y="915.0" text-anchor="middle">50.00</text></g><path d="M49.4,837.5L550.6,928.6M49.4,792.0L550.6,974.1M49.4,746.5L550.6,1019.6" stroke="#000" stroke-width="2.4" fill="none"/><text transform="translate(14.3,907.0) rotate(-90)" text-anchor="middle" font-weight="bold" font-size="18.5">Financial Cost (£)</text><text x="326.0" y="1048.0" text-anchor="middle" font-weight="bold" font-size="18.5">Environmental Cost (kgCO<tspan font-size="12.5" dy="4">2</tspan><tspan dy="-4">e)</tspan></text><text x="0.6" y="753.3" font-weight="bold" font-size="25">C</text><g font-size="11.6" stroke="#000" stroke-width="0.15"><text x="566.5" y="936.8" textLength="70.5" lengthAdjust="spacingAndGlyphs">£1,000/tCO<tspan font-size="8" dy="2.8">2</tspan><tspan dy="-2.8">e</tspan></text><text x="566.5" y="980.9" textLength="70.5" lengthAdjust="spacingAndGlyphs">£2,000/tCO<tspan font-size="8" dy="2.8">2</tspan><tspan dy="-2.8">e</tspan></text><text x="566.5" y="1025.8" textLength="70.5" lengthAdjust="spacingAndGlyphs">£3,000/tCO<tspan font-size="8" dy="2.8">2</tspan><tspan dy="-2.8">e</tspan></text></g></svg></body></html>
